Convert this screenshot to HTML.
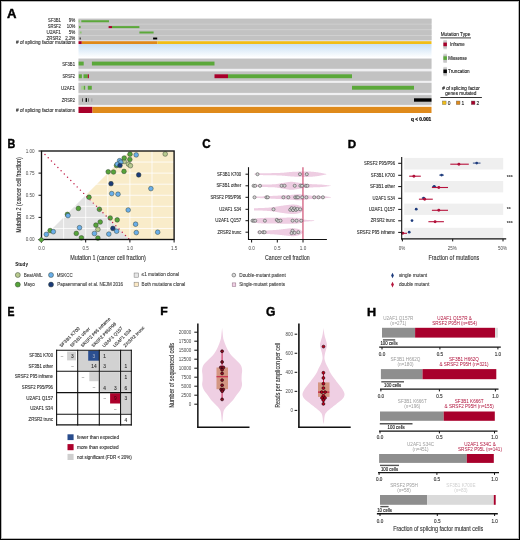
<!DOCTYPE html>
<html><head><meta charset="utf-8"><style>
html,body{margin:0;padding:0;background:#fff;}
#wrap{position:relative;width:520px;height:540px;overflow:hidden;background:#fff;}
#frame{position:absolute;left:0;top:0;width:518px;height:538px;border:1px solid #000;box-shadow:inset 0 0 0 1px rgba(0,0,0,0.28);}
svg{position:absolute;left:0;top:0;will-change:transform;}
text{font-family:"Liberation Sans", sans-serif;}
</style></head><body><div id="wrap">
<svg width="520" height="540" viewBox="0 0 520 540" font-family="Liberation Sans, sans-serif">
<defs><linearGradient id="bluegrad" x1="0" y1="0" x2="0" y2="1"><stop offset="0" stop-color="#c8e0f5"/><stop offset="1" stop-color="#ffffff"/></linearGradient></defs>
<text x="7.1" y="17.9" font-size="12.21" text-anchor="start" fill="#000" font-weight="bold" textLength="9.5" lengthAdjust="spacingAndGlyphs" stroke="#000" stroke-width="0.4">A</text>
<rect x="78.5" y="18.7" width="353" height="21.4" fill="#d6d6d6"/>
<rect x="78.5" y="40.1" width="353" height="1.1" fill="#dcdce6"/>
<rect x="78.5" y="18.7" width="353" height="5.1" fill="#c2c2c2"/>
<rect x="78.5" y="24.4" width="353" height="5" fill="#c2c2c2"/>
<rect x="78.5" y="30.1" width="353" height="5.1" fill="#c2c2c2"/>
<rect x="78.5" y="35.9" width="353" height="4.2" fill="#c2c2c2"/>
<rect x="78.6" y="20.25" width="1.4" height="2" fill="#9ccc86"/>
<rect x="81.3" y="20.25" width="27.7" height="2" fill="#5ba83a"/>
<rect x="79" y="26.1" width="1.6" height="2" fill="#5ba83a"/>
<rect x="108.6" y="26.1" width="3.4" height="2" fill="#a8002a"/>
<rect x="112" y="26.1" width="27.4" height="2" fill="#5ba83a"/>
<rect x="79.8" y="31.5" width="1.8" height="2" fill="#8fc478"/>
<rect x="139.4" y="31.5" width="14.2" height="2" fill="#5ba83a"/>
<rect x="79.6" y="37.5" width="1.2" height="2" fill="#333"/>
<rect x="153.1" y="37.55" width="4.1" height="1.9" fill="#000"/>
<rect x="78.5" y="41.2" width="3.3" height="2.8" fill="#a8002a"/>
<rect x="81.8" y="41.2" width="75.7" height="2.8" fill="#df8a1b"/>
<rect x="157.5" y="41.2" width="274" height="2.8" fill="#f1bd17"/>
<rect x="78.5" y="44" width="353" height="13.5" fill="url(#bluegrad)"/>
<text x="48.1" y="22.46" font-size="4.6" text-anchor="start" fill="#333" stroke="#333" stroke-width="0.12" textLength="12.8" lengthAdjust="spacingAndGlyphs">SF3B1</text>
<text x="68.8" y="22.46" font-size="4.6" text-anchor="start" fill="#333" stroke="#333" stroke-width="0.12" textLength="6.5" lengthAdjust="spacingAndGlyphs">9%</text>
<text x="47.7" y="28.06" font-size="4.6" text-anchor="start" fill="#333" stroke="#333" stroke-width="0.12" textLength="13.2" lengthAdjust="spacingAndGlyphs">SRSF2</text>
<text x="66.8" y="28.06" font-size="4.6" text-anchor="start" fill="#333" stroke="#333" stroke-width="0.12" textLength="8.5" lengthAdjust="spacingAndGlyphs">10%</text>
<text x="46.6" y="33.76" font-size="4.6" text-anchor="start" fill="#333" stroke="#333" stroke-width="0.12" textLength="14.3" lengthAdjust="spacingAndGlyphs">U2AF1</text>
<text x="68.8" y="33.76" font-size="4.6" text-anchor="start" fill="#333" stroke="#333" stroke-width="0.12" textLength="6.5" lengthAdjust="spacingAndGlyphs">5%</text>
<text x="46.6" y="39.56" font-size="4.6" text-anchor="start" fill="#333" stroke="#333" stroke-width="0.12" textLength="14.3" lengthAdjust="spacingAndGlyphs">ZRSR2</text>
<text x="65.2" y="39.56" font-size="4.6" text-anchor="start" fill="#333" stroke="#333" stroke-width="0.12" textLength="10.1" lengthAdjust="spacingAndGlyphs">2.2%</text>
<text x="16" y="44.26" font-size="4.6" text-anchor="start" fill="#333" stroke="#333" stroke-width="0.12" textLength="59.3" lengthAdjust="spacingAndGlyphs"># of splicing factor mutations</text>
<rect x="78.5" y="58" width="353" height="48" fill="#f0f0f2"/>
<rect x="78.5" y="58.7" width="353" height="10.1" fill="#c2c2c2"/>
<rect x="78.5" y="71.4" width="353" height="9.4" fill="#c2c2c2"/>
<rect x="78.5" y="82.9" width="353" height="10" fill="#c2c2c2"/>
<rect x="78.5" y="95.1" width="353" height="9.8" fill="#c2c2c2"/>
<rect x="78.6" y="61.6" width="5.1" height="3.9" fill="#5ba83a"/>
<rect x="91.9" y="61.6" width="122.6" height="3.9" fill="#5ba83a"/>
<rect x="78.8" y="74.3" width="3.1" height="3.9" fill="#5ba83a"/>
<rect x="83.5" y="74.3" width="4.3" height="3.9" fill="#5ba83a"/>
<rect x="87.8" y="74.3" width="1.1" height="3.9" fill="#a8002a"/>
<rect x="214.5" y="74.3" width="13.5" height="3.9" fill="#a8002a"/>
<rect x="228" y="74.3" width="124" height="3.9" fill="#5ba83a"/>
<rect x="81.2" y="85.8" width="2.6" height="3.9" fill="#a7cf93"/>
<rect x="83.8" y="85.8" width="1.4" height="3.9" fill="#5ba83a"/>
<rect x="87.8" y="85.8" width="4" height="3.9" fill="#5ba83a"/>
<rect x="352" y="85.8" width="62" height="3.9" fill="#5ba83a"/>
<rect x="82" y="98.3" width="0.7" height="3.4" fill="#222"/>
<rect x="85.6" y="98.1" width="1.4" height="3.8" fill="#000"/>
<rect x="88.3" y="98.3" width="0.7" height="3.4" fill="#444"/>
<rect x="91.6" y="98.3" width="0.6" height="3.4" fill="#888"/>
<rect x="414" y="98.3" width="17.5" height="3.4" fill="#000"/>
<rect x="78.5" y="106.8" width="14" height="6.2" fill="#a8002a"/>
<rect x="92.5" y="106.8" width="339" height="6.2" fill="#df8a1b"/>
<text x="62.2" y="65.56" font-size="4.6" text-anchor="start" fill="#333" stroke="#333" stroke-width="0.12" textLength="12.8" lengthAdjust="spacingAndGlyphs">SF3B1</text>
<text x="62.5" y="77.76" font-size="4.6" text-anchor="start" fill="#333" stroke="#333" stroke-width="0.12" textLength="12.5" lengthAdjust="spacingAndGlyphs">SRSF2</text>
<text x="61.1" y="89.76" font-size="4.6" text-anchor="start" fill="#333" stroke="#333" stroke-width="0.12" textLength="13.9" lengthAdjust="spacingAndGlyphs">U2AF1</text>
<text x="61.8" y="101.86" font-size="4.6" text-anchor="start" fill="#333" stroke="#333" stroke-width="0.12" textLength="13.2" lengthAdjust="spacingAndGlyphs">ZRSR2</text>
<text x="16" y="111.86" font-size="4.6" text-anchor="start" fill="#333" stroke="#333" stroke-width="0.12" textLength="59" lengthAdjust="spacingAndGlyphs"># of splicing factor mutations</text>
<text x="431.2" y="121.4" font-size="4.8" text-anchor="end" fill="#000" font-weight="bold" textLength="20.3" lengthAdjust="spacingAndGlyphs" stroke="#000" stroke-width="0.18">q &lt; 0.001</text>
<text x="440.7" y="36.36" font-size="4.9" text-anchor="start" fill="#222" stroke="#222" stroke-width="0.12" textLength="29.6" lengthAdjust="spacingAndGlyphs">Mutation Type</text>
<rect x="440.3" y="37.4" width="30.7" height="1" fill="#444"/>
<rect x="443.4" y="40" width="3.5" height="9.3" fill="#d4d4d4"/>
<rect x="443.4" y="41.2" width="3.5" height="6.9" fill="#c4c4c4"/>
<rect x="443.4" y="42.6" width="3.5" height="3.6" fill="#a8002a"/>
<text x="450" y="46.16" font-size="4.9" text-anchor="start" fill="#222" stroke="#222" stroke-width="0.12" textLength="14.6" lengthAdjust="spacingAndGlyphs">Inframe</text>
<rect x="443.4" y="53.7" width="3.5" height="9.3" fill="#d4d4d4"/>
<rect x="443.4" y="54.9" width="3.5" height="6.9" fill="#c4c4c4"/>
<rect x="443.4" y="56.3" width="3.5" height="3.6" fill="#5ba83a"/>
<text x="448.3" y="60.16" font-size="4.9" text-anchor="start" fill="#222" stroke="#222" stroke-width="0.12" textLength="18.7" lengthAdjust="spacingAndGlyphs">Missense</text>
<rect x="443.4" y="66.9" width="3.5" height="9.3" fill="#d4d4d4"/>
<rect x="443.4" y="68.1" width="3.5" height="6.9" fill="#c4c4c4"/>
<rect x="443.4" y="69.5" width="3.5" height="3.6" fill="#000"/>
<text x="448.1" y="72.96" font-size="4.9" text-anchor="start" fill="#222" stroke="#222" stroke-width="0.12" textLength="21.6" lengthAdjust="spacingAndGlyphs">Truncation</text>
<text x="442.3" y="90.06" font-size="4.9" text-anchor="start" fill="#222" stroke="#222" stroke-width="0.12" textLength="37.5" lengthAdjust="spacingAndGlyphs"># of splicing factor</text>
<text x="445.2" y="94.86" font-size="4.9" text-anchor="start" fill="#222" stroke="#222" stroke-width="0.12" textLength="31.2" lengthAdjust="spacingAndGlyphs">genes mutated</text>
<rect x="440.4" y="97" width="41.5" height="1" fill="#333"/>
<rect x="442.3" y="101" width="3.8" height="3.6" fill="#f1bd17" stroke="#666" stroke-width="0.4"/>
<text x="447.7" y="104.6" font-size="4.9" text-anchor="start" fill="#222" stroke="#222" stroke-width="0.12">0</text>
<rect x="456.2" y="101" width="3.8" height="3.6" fill="#df8a1b" stroke="#666" stroke-width="0.4"/>
<text x="461.6" y="104.6" font-size="4.9" text-anchor="start" fill="#222" stroke="#222" stroke-width="0.12">1</text>
<rect x="471.2" y="101" width="3.8" height="3.6" fill="#a8002a" stroke="#666" stroke-width="0.4"/>
<text x="476.6" y="104.6" font-size="4.9" text-anchor="start" fill="#222" stroke="#222" stroke-width="0.12">2</text>
<text x="7.5" y="147.75" font-size="11.85" text-anchor="start" fill="#000" font-weight="bold" textLength="7.8" lengthAdjust="spacingAndGlyphs" stroke="#000" stroke-width="0.4">B</text>
<path d="M41.5 239.5 L85.7 195.25 L129.9 239.5 Z" fill="#e3e3e3" stroke="none" stroke-width="1"/>
<path d="M85.7 195.25 L129.9 151 L174.1 151 L174.1 239.5 L129.9 239.5 Z" fill="#f9ecca" stroke="none" stroke-width="1"/>
<line x1="63.6" y1="151" x2="63.6" y2="239.5" stroke="#fff" stroke-width="0.8"/>
<line x1="85.7" y1="151" x2="85.7" y2="239.5" stroke="#fff" stroke-width="0.8"/>
<line x1="107.8" y1="151" x2="107.8" y2="239.5" stroke="#fff" stroke-width="0.8"/>
<line x1="129.9" y1="151" x2="129.9" y2="239.5" stroke="#fff" stroke-width="0.8"/>
<line x1="152" y1="151" x2="152" y2="239.5" stroke="#fff" stroke-width="0.8"/>
<line x1="41.5" y1="228.44" x2="174.1" y2="228.44" stroke="#fff" stroke-width="0.8"/>
<line x1="41.5" y1="217.38" x2="174.1" y2="217.38" stroke="#fff" stroke-width="0.8"/>
<line x1="41.5" y1="206.31" x2="174.1" y2="206.31" stroke="#fff" stroke-width="0.8"/>
<line x1="41.5" y1="195.25" x2="174.1" y2="195.25" stroke="#fff" stroke-width="0.8"/>
<line x1="41.5" y1="184.19" x2="174.1" y2="184.19" stroke="#fff" stroke-width="0.8"/>
<line x1="41.5" y1="173.12" x2="174.1" y2="173.12" stroke="#fff" stroke-width="0.8"/>
<line x1="41.5" y1="162.06" x2="174.1" y2="162.06" stroke="#fff" stroke-width="0.8"/>
<circle cx="46.3" cy="234.4" r="2.35" fill="#6aaee9" stroke="#2a3a2a" stroke-width="0.45"/>
<circle cx="50.1" cy="230.6" r="2.35" fill="#56a33a" stroke="#2a3a2a" stroke-width="0.45"/>
<circle cx="53.3" cy="231.7" r="2.35" fill="#6aaee9" stroke="#2a3a2a" stroke-width="0.45"/>
<circle cx="67.4" cy="214.4" r="2.35" fill="#56a33a" stroke="#2a3a2a" stroke-width="0.45"/>
<circle cx="68" cy="215.6" r="2.35" fill="#6aaee9" stroke="#2a3a2a" stroke-width="0.45"/>
<circle cx="78.4" cy="208.4" r="2.35" fill="#56a33a" stroke="#2a3a2a" stroke-width="0.45"/>
<circle cx="79.5" cy="227.7" r="2.35" fill="#6aaee9" stroke="#2a3a2a" stroke-width="0.45"/>
<circle cx="76.3" cy="233.4" r="2.35" fill="#56a33a" stroke="#2a3a2a" stroke-width="0.45"/>
<circle cx="81.4" cy="237.8" r="2.35" fill="#56a33a" stroke="#2a3a2a" stroke-width="0.45"/>
<circle cx="89" cy="197.2" r="2.35" fill="#56a33a" stroke="#2a3a2a" stroke-width="0.45"/>
<circle cx="99.4" cy="209.3" r="2.35" fill="#56a33a" stroke="#2a3a2a" stroke-width="0.45"/>
<circle cx="95.9" cy="225.1" r="2.35" fill="#56a33a" stroke="#2a3a2a" stroke-width="0.45"/>
<circle cx="100.2" cy="222" r="2.35" fill="#56a33a" stroke="#2a3a2a" stroke-width="0.45"/>
<circle cx="97.9" cy="229.4" r="2.35" fill="#b8c98e" stroke="#2a3a2a" stroke-width="0.45"/>
<circle cx="94.4" cy="233.5" r="2.35" fill="#6aaee9" stroke="#2a3a2a" stroke-width="0.45"/>
<circle cx="97.9" cy="238.1" r="2.35" fill="#56a33a" stroke="#2a3a2a" stroke-width="0.45"/>
<circle cx="108.8" cy="234.1" r="2.35" fill="#6aaee9" stroke="#2a3a2a" stroke-width="0.45"/>
<circle cx="112.9" cy="228.4" r="2.35" fill="#1b3a78" stroke="#2a3a2a" stroke-width="0.45"/>
<circle cx="116.6" cy="231.2" r="2.35" fill="#6aaee9" stroke="#2a3a2a" stroke-width="0.45"/>
<circle cx="110.2" cy="218" r="2.35" fill="#56a33a" stroke="#2a3a2a" stroke-width="0.45"/>
<circle cx="117.2" cy="219.9" r="2.35" fill="#56a33a" stroke="#2a3a2a" stroke-width="0.45"/>
<circle cx="128.2" cy="210" r="2.35" fill="#6aaee9" stroke="#2a3a2a" stroke-width="0.45"/>
<circle cx="135.6" cy="224.2" r="2.35" fill="#6aaee9" stroke="#2a3a2a" stroke-width="0.45"/>
<circle cx="136.3" cy="232.6" r="2.35" fill="#6aaee9" stroke="#2a3a2a" stroke-width="0.45"/>
<circle cx="157.7" cy="232.2" r="2.35" fill="#6aaee9" stroke="#2a3a2a" stroke-width="0.45"/>
<circle cx="150.9" cy="188.6" r="2.35" fill="#6aaee9" stroke="#2a3a2a" stroke-width="0.45"/>
<circle cx="111.7" cy="193.6" r="2.35" fill="#6aaee9" stroke="#2a3a2a" stroke-width="0.45"/>
<circle cx="118" cy="194.2" r="2.35" fill="#6aaee9" stroke="#2a3a2a" stroke-width="0.45"/>
<circle cx="111" cy="183.7" r="2.35" fill="#1b3a78" stroke="#2a3a2a" stroke-width="0.45"/>
<circle cx="138.7" cy="174.9" r="2.35" fill="#1b3a78" stroke="#2a3a2a" stroke-width="0.45"/>
<circle cx="108.2" cy="171.8" r="2.35" fill="#56a33a" stroke="#2a3a2a" stroke-width="0.45"/>
<circle cx="113.5" cy="172" r="2.35" fill="#56a33a" stroke="#2a3a2a" stroke-width="0.45"/>
<circle cx="124" cy="171.4" r="2.35" fill="#56a33a" stroke="#2a3a2a" stroke-width="0.45"/>
<circle cx="124.2" cy="161.5" r="2.35" fill="#b8c98e" stroke="#2a3a2a" stroke-width="0.45"/>
<circle cx="124.2" cy="158" r="2.35" fill="#56a33a" stroke="#2a3a2a" stroke-width="0.45"/>
<circle cx="130" cy="154.2" r="2.35" fill="#56a33a" stroke="#2a3a2a" stroke-width="0.45"/>
<circle cx="136.2" cy="154.9" r="2.35" fill="#6aaee9" stroke="#2a3a2a" stroke-width="0.45"/>
<circle cx="129.8" cy="159.5" r="2.35" fill="#56a33a" stroke="#2a3a2a" stroke-width="0.45"/>
<circle cx="119.6" cy="160.7" r="2.35" fill="#6aaee9" stroke="#2a3a2a" stroke-width="0.45"/>
<circle cx="120.8" cy="162.2" r="2.35" fill="#6aaee9" stroke="#2a3a2a" stroke-width="0.45"/>
<circle cx="116.5" cy="165.5" r="2.35" fill="#56a33a" stroke="#2a3a2a" stroke-width="0.45"/>
<circle cx="117.3" cy="164.2" r="2.35" fill="#6aaee9" stroke="#2a3a2a" stroke-width="0.45"/>
<circle cx="120" cy="165.5" r="2.35" fill="#1b3a78" stroke="#2a3a2a" stroke-width="0.45"/>
<circle cx="128.5" cy="164.2" r="2.35" fill="#b8c98e" stroke="#2a3a2a" stroke-width="0.45"/>
<circle cx="130.4" cy="165.7" r="2.35" fill="#b8c98e" stroke="#2a3a2a" stroke-width="0.45"/>
<circle cx="165.2" cy="154" r="2.35" fill="#b8c98e" stroke="#2a3a2a" stroke-width="0.45"/>
<circle cx="45" cy="154.5" r="0.72" fill="#c21f4a" stroke="none" stroke-width="0.5"/>
<circle cx="48.22" cy="157.74" r="0.72" fill="#c21f4a" stroke="none" stroke-width="0.5"/>
<circle cx="51.44" cy="160.98" r="0.72" fill="#c21f4a" stroke="none" stroke-width="0.5"/>
<circle cx="54.66" cy="164.22" r="0.72" fill="#c21f4a" stroke="none" stroke-width="0.5"/>
<circle cx="57.88" cy="167.46" r="0.72" fill="#c21f4a" stroke="none" stroke-width="0.5"/>
<circle cx="61.1" cy="170.7" r="0.72" fill="#c21f4a" stroke="none" stroke-width="0.5"/>
<circle cx="64.32" cy="173.94" r="0.72" fill="#c21f4a" stroke="none" stroke-width="0.5"/>
<circle cx="67.54" cy="177.18" r="0.72" fill="#c21f4a" stroke="none" stroke-width="0.5"/>
<circle cx="70.76" cy="180.42" r="0.72" fill="#c21f4a" stroke="none" stroke-width="0.5"/>
<circle cx="73.98" cy="183.66" r="0.72" fill="#c21f4a" stroke="none" stroke-width="0.5"/>
<circle cx="77.2" cy="186.9" r="0.72" fill="#c21f4a" stroke="none" stroke-width="0.5"/>
<circle cx="80.42" cy="190.14" r="0.72" fill="#c21f4a" stroke="none" stroke-width="0.5"/>
<circle cx="83.64" cy="193.38" r="0.72" fill="#c21f4a" stroke="none" stroke-width="0.5"/>
<circle cx="86.86" cy="196.62" r="0.72" fill="#c21f4a" stroke="none" stroke-width="0.5"/>
<circle cx="90.08" cy="199.86" r="0.72" fill="#c21f4a" stroke="none" stroke-width="0.5"/>
<circle cx="93.3" cy="203.1" r="0.72" fill="#c21f4a" stroke="none" stroke-width="0.5"/>
<circle cx="96.52" cy="206.34" r="0.72" fill="#c21f4a" stroke="none" stroke-width="0.5"/>
<circle cx="99.74" cy="209.58" r="0.72" fill="#c21f4a" stroke="none" stroke-width="0.5"/>
<circle cx="102.96" cy="212.82" r="0.72" fill="#c21f4a" stroke="none" stroke-width="0.5"/>
<circle cx="106.18" cy="216.06" r="0.72" fill="#c21f4a" stroke="none" stroke-width="0.5"/>
<circle cx="109.4" cy="219.3" r="0.72" fill="#c21f4a" stroke="none" stroke-width="0.5"/>
<circle cx="112.62" cy="222.54" r="0.72" fill="#c21f4a" stroke="none" stroke-width="0.5"/>
<circle cx="115.84" cy="225.78" r="0.72" fill="#c21f4a" stroke="none" stroke-width="0.5"/>
<circle cx="119.06" cy="229.02" r="0.72" fill="#c21f4a" stroke="none" stroke-width="0.5"/>
<circle cx="122.28" cy="232.26" r="0.72" fill="#c21f4a" stroke="none" stroke-width="0.5"/>
<circle cx="125.5" cy="235.5" r="0.72" fill="#c21f4a" stroke="none" stroke-width="0.5"/>
<circle cx="128.72" cy="238.74" r="0.72" fill="#c21f4a" stroke="none" stroke-width="0.5"/>
<rect x="41.5" y="151" width="132.6" height="88.5" fill="none" stroke="#111" stroke-width="1.35"/>
<line x1="38.5" y1="239.5" x2="41.5" y2="239.5" stroke="#111" stroke-width="1"/>
<text x="34.6" y="241.1" font-size="4.6" text-anchor="end" fill="#4a4a4a">0.00</text>
<line x1="38.5" y1="217.38" x2="41.5" y2="217.38" stroke="#111" stroke-width="1"/>
<text x="34.6" y="218.97" font-size="4.6" text-anchor="end" fill="#4a4a4a">0.25</text>
<line x1="38.5" y1="195.25" x2="41.5" y2="195.25" stroke="#111" stroke-width="1"/>
<text x="34.6" y="196.85" font-size="4.6" text-anchor="end" fill="#4a4a4a">0.50</text>
<line x1="38.5" y1="173.12" x2="41.5" y2="173.12" stroke="#111" stroke-width="1"/>
<text x="34.6" y="174.72" font-size="4.6" text-anchor="end" fill="#4a4a4a">0.75</text>
<line x1="38.5" y1="151" x2="41.5" y2="151" stroke="#111" stroke-width="1"/>
<text x="34.6" y="152.6" font-size="4.6" text-anchor="end" fill="#4a4a4a">1.00</text>
<line x1="41.5" y1="239.5" x2="41.5" y2="242.5" stroke="#111" stroke-width="1"/>
<text x="41.5" y="249.6" font-size="4.6" text-anchor="middle" fill="#4a4a4a">0.0</text>
<line x1="85.7" y1="239.5" x2="85.7" y2="242.5" stroke="#111" stroke-width="1"/>
<text x="85.7" y="249.6" font-size="4.6" text-anchor="middle" fill="#4a4a4a">0.5</text>
<line x1="129.9" y1="239.5" x2="129.9" y2="242.5" stroke="#111" stroke-width="1"/>
<text x="129.9" y="249.6" font-size="4.6" text-anchor="middle" fill="#4a4a4a">1.0</text>
<line x1="174.1" y1="239.5" x2="174.1" y2="242.5" stroke="#111" stroke-width="1"/>
<text x="174.1" y="249.6" font-size="4.6" text-anchor="middle" fill="#4a4a4a">1.5</text>
<path d="M38.5 239.8 l2.8 -2.8 l2.8 2.8 l-2.8 2.8 Z" fill="#56a33a" stroke="#1f2a1f" stroke-width="0.5"/>
<text x="70.3" y="260.4" font-size="6.4" text-anchor="start" fill="#333" stroke="#333" stroke-width="0.12" textLength="75.6" lengthAdjust="spacingAndGlyphs">Mutation 1 (cancer cell fraction)</text>
<text transform="translate(21.4,195) rotate(-90)" font-size="6.4" text-anchor="middle" fill="#333" stroke="#333" stroke-width="0.12" textLength="75.6" lengthAdjust="spacingAndGlyphs">Mutation 2 (cancer cell fraction)</text>
<text x="15.2" y="266.33" font-size="4.8" text-anchor="start" fill="#111" font-weight="bold" textLength="12.8" lengthAdjust="spacingAndGlyphs">Study</text>
<circle cx="17.8" cy="275" r="2.5" fill="#b8c98e" stroke="#2a3a2a" stroke-width="0.45"/>
<text x="23.8" y="276.69" font-size="4.7" text-anchor="start" fill="#444" stroke="#444" stroke-width="0.12" textLength="18.7" lengthAdjust="spacingAndGlyphs">BeatAML</text>
<circle cx="51" cy="275" r="2.5" fill="#6aaee9" stroke="#2a3a2a" stroke-width="0.45"/>
<text x="56.7" y="276.69" font-size="4.7" text-anchor="start" fill="#444" stroke="#444" stroke-width="0.12" textLength="15.9" lengthAdjust="spacingAndGlyphs">MSKCC</text>
<circle cx="17.8" cy="284.6" r="2.5" fill="#56a33a" stroke="#2a3a2a" stroke-width="0.45"/>
<text x="23.8" y="286.29" font-size="4.7" text-anchor="start" fill="#444" stroke="#444" stroke-width="0.12" textLength="10.8" lengthAdjust="spacingAndGlyphs">Mayo</text>
<circle cx="51" cy="284.6" r="2.5" fill="#1b3a78" stroke="#2a3a2a" stroke-width="0.45"/>
<text x="57.3" y="286.29" font-size="4.7" text-anchor="start" fill="#444" stroke="#444" stroke-width="0.12" textLength="65.7" lengthAdjust="spacingAndGlyphs">Papaemmanuil et al. NEJM 2016</text>
<rect x="134.1" y="273" width="4.6" height="4.2" fill="#e6e6e6" stroke="#777" stroke-width="0.5"/>
<rect x="134.1" y="282.2" width="4.6" height="4.2" fill="#fbe8c4" stroke="#777" stroke-width="0.5"/>
<text x="141.6" y="276.49" font-size="4.7" text-anchor="start" fill="#444" stroke="#444" stroke-width="0.12" textLength="37.5" lengthAdjust="spacingAndGlyphs">≤1 mutation clonal</text>
<text x="141.6" y="285.99" font-size="4.7" text-anchor="start" fill="#444" stroke="#444" stroke-width="0.12" textLength="43.7" lengthAdjust="spacingAndGlyphs">Both mutations clonal</text>
<text x="202.2" y="147.7" font-size="12.21" text-anchor="start" fill="#000" font-weight="bold" textLength="8.4" lengthAdjust="spacingAndGlyphs" stroke="#000" stroke-width="0.4">C</text>
<polygon points="254.5,173.6 254.76,173.59 255.04,173.58 255.35,173.56 255.69,173.54 256.06,173.53 256.46,173.51 256.89,173.49 257.37,173.46 257.88,173.44 258.44,173.42 259.05,173.39 259.71,173.37 260.42,173.35 261.18,173.32 262,173.3 262.36,173.29 262.75,173.28 263.15,173.27 263.57,173.26 264.01,173.25 264.46,173.25 264.93,173.24 265.41,173.23 265.9,173.22 266.41,173.21 266.92,173.2 267.44,173.2 267.98,173.19 268.51,173.18 269.06,173.17 269.61,173.16 270.16,173.15 270.72,173.14 271.28,173.13 271.84,173.12 272.39,173.11 272.95,173.1 273.5,173.09 274.06,173.08 274.6,173.07 275.14,173.06 275.68,173.04 276.2,173.03 276.72,173.02 277.23,173 277.72,172.99 278.21,172.97 278.68,172.95 279.13,172.94 279.57,172.92 280,172.9 280.61,172.87 281.21,172.84 281.79,172.8 282.35,172.76 282.89,172.72 283.42,172.68 283.94,172.63 284.44,172.59 284.94,172.54 285.43,172.5 285.9,172.45 286.38,172.4 286.84,172.35 287.3,172.3 287.76,172.26 288.22,172.21 288.68,172.17 289.14,172.12 289.6,172.08 290.07,172.04 290.54,172 291.02,171.96 291.5,171.93 292,171.9 292.5,171.87 293.01,171.84 293.53,171.82 294.05,171.79 294.57,171.77 295.09,171.74 295.62,171.72 296.15,171.7 296.68,171.68 297.2,171.66 297.73,171.64 298.25,171.62 298.77,171.61 299.28,171.59 299.79,171.58 300.3,171.57 300.79,171.55 301.28,171.54 301.76,171.53 302.23,171.52 302.69,171.52 303.14,171.51 303.58,171.5 304,171.5 304.61,171.49 305.19,171.49 305.75,171.49 306.28,171.49 306.8,171.49 307.29,171.5 307.78,171.5 308.25,171.51 308.72,171.52 309.18,171.54 309.63,171.56 310.09,171.58 310.56,171.6 311.03,171.63 311.51,171.66 312,171.7 312.5,171.74 313.01,171.78 313.52,171.83 314.04,171.89 314.56,171.94 315.07,172 315.59,172.07 316.11,172.13 316.62,172.2 317.12,172.27 317.63,172.34 318.12,172.41 318.61,172.48 319.08,172.56 319.55,172.63 320,172.7 320.6,172.8 321.22,172.91 321.84,173.03 322.46,173.16 323.06,173.29 323.65,173.41 324.21,173.54 324.73,173.65 325.21,173.76 325.63,173.86 326,173.94 326.3,174 326.3,174.4 326,174.46 325.63,174.54 325.21,174.64 324.73,174.75 324.21,174.86 323.65,174.99 323.06,175.11 322.46,175.24 321.84,175.37 321.22,175.49 320.6,175.6 320,175.7 319.55,175.77 319.08,175.84 318.61,175.92 318.12,175.99 317.63,176.06 317.12,176.13 316.62,176.2 316.11,176.27 315.59,176.33 315.07,176.4 314.56,176.46 314.04,176.51 313.52,176.57 313.01,176.62 312.5,176.66 312,176.7 311.51,176.74 311.03,176.77 310.56,176.8 310.09,176.82 309.63,176.84 309.18,176.86 308.72,176.88 308.25,176.89 307.78,176.9 307.29,176.9 306.8,176.91 306.28,176.91 305.75,176.91 305.19,176.91 304.61,176.91 304,176.9 303.58,176.9 303.14,176.89 302.69,176.88 302.23,176.88 301.76,176.87 301.28,176.86 300.79,176.85 300.3,176.83 299.79,176.82 299.28,176.81 298.77,176.79 298.25,176.77 297.73,176.76 297.2,176.74 296.68,176.72 296.15,176.7 295.62,176.68 295.09,176.66 294.57,176.63 294.05,176.61 293.53,176.58 293.01,176.56 292.5,176.53 292,176.5 291.5,176.47 291.02,176.44 290.54,176.4 290.07,176.36 289.6,176.32 289.14,176.28 288.68,176.23 288.22,176.19 287.76,176.14 287.3,176.1 286.84,176.05 286.38,176 285.9,175.95 285.43,175.9 284.94,175.86 284.44,175.81 283.94,175.77 283.42,175.72 282.89,175.68 282.35,175.64 281.79,175.6 281.21,175.56 280.61,175.53 280,175.5 279.57,175.48 279.13,175.46 278.68,175.45 278.21,175.43 277.72,175.41 277.23,175.4 276.72,175.38 276.2,175.37 275.68,175.36 275.14,175.34 274.6,175.33 274.06,175.32 273.5,175.31 272.95,175.3 272.39,175.29 271.84,175.28 271.28,175.27 270.72,175.26 270.16,175.25 269.61,175.24 269.06,175.23 268.51,175.22 267.98,175.21 267.44,175.2 266.92,175.2 266.41,175.19 265.9,175.18 265.41,175.17 264.93,175.16 264.46,175.15 264.01,175.15 263.57,175.14 263.15,175.13 262.75,175.12 262.36,175.11 262,175.1 261.18,175.08 260.42,175.05 259.71,175.03 259.05,175.01 258.44,174.98 257.88,174.96 257.37,174.94 256.89,174.91 256.46,174.89 256.06,174.87 255.69,174.86 255.35,174.84 255.04,174.82 254.76,174.81 254.5,174.8" fill="#eecde2"/>
<polygon points="252.5,185 252.77,184.99 253.08,184.97 253.43,184.96 253.82,184.94 254.23,184.92 254.68,184.9 255.15,184.88 255.65,184.86 256.17,184.84 256.71,184.81 257.27,184.79 257.84,184.76 258.42,184.74 259.01,184.72 259.6,184.69 260.2,184.67 260.81,184.64 261.4,184.62 262,184.6 262.44,184.59 262.9,184.57 263.37,184.56 263.85,184.55 264.34,184.54 264.84,184.53 265.35,184.52 265.87,184.51 266.4,184.5 266.93,184.49 267.46,184.48 268,184.47 268.53,184.46 269.07,184.45 269.6,184.44 270.13,184.43 270.66,184.41 271.18,184.4 271.69,184.38 272.2,184.36 272.7,184.34 273.19,184.32 273.66,184.29 274.12,184.26 274.57,184.23 275,184.2 275.6,184.15 276.19,184.09 276.75,184.02 277.31,183.95 277.85,183.87 278.37,183.79 278.88,183.71 279.38,183.62 279.88,183.54 280.36,183.45 280.83,183.36 281.3,183.27 281.76,183.19 282.21,183.1 282.66,183.02 283.11,182.94 283.56,182.87 284,182.8 284.56,182.71 285.1,182.62 285.63,182.53 286.15,182.43 286.65,182.34 287.14,182.25 287.62,182.16 288.1,182.08 288.58,182.01 289.06,181.94 289.54,181.89 290.02,181.84 290.5,181.82 291,181.8 291.5,181.8 292,181.82 292.5,181.85 293,181.89 293.5,181.94 294,182.01 294.5,182.08 295,182.15 295.5,182.23 296,182.3 296.5,182.38 297,182.46 297.5,182.53 298,182.6 298.5,182.67 298.99,182.74 299.48,182.81 299.97,182.88 300.46,182.96 300.95,183.04 301.44,183.11 301.93,183.19 302.43,183.26 302.93,183.34 303.43,183.41 303.95,183.48 304.47,183.54 305,183.6 305.47,183.65 305.95,183.7 306.42,183.74 306.91,183.78 307.39,183.82 307.88,183.86 308.38,183.9 308.88,183.94 309.38,183.97 309.88,184.01 310.39,184.04 310.91,184.07 311.42,184.11 311.95,184.14 312.47,184.17 313,184.2 313.48,184.23 313.96,184.25 314.45,184.27 314.94,184.29 315.44,184.31 315.94,184.33 316.45,184.34 316.95,184.36 317.46,184.38 317.97,184.39 318.48,184.41 318.99,184.43 319.5,184.45 320.01,184.47 320.51,184.5 321.01,184.53 321.51,184.56 322,184.6 322.53,184.64 323.08,184.7 323.65,184.75 324.23,184.82 324.82,184.88 325.41,184.95 326,185.02 326.58,185.09 327.14,185.16 327.69,185.23 328.22,185.3 328.71,185.36 329.18,185.42 329.6,185.48 329.98,185.52 330.32,185.57 330.6,185.6 330.6,186 330.32,186.03 329.98,186.08 329.6,186.12 329.18,186.18 328.71,186.24 328.22,186.3 327.69,186.37 327.14,186.44 326.58,186.51 326,186.58 325.41,186.65 324.82,186.72 324.23,186.78 323.65,186.85 323.08,186.9 322.53,186.96 322,187 321.51,187.04 321.01,187.07 320.51,187.1 320.01,187.13 319.5,187.15 318.99,187.17 318.48,187.19 317.97,187.21 317.46,187.23 316.95,187.24 316.45,187.26 315.94,187.27 315.44,187.29 314.94,187.31 314.45,187.33 313.96,187.35 313.48,187.37 313,187.4 312.47,187.43 311.95,187.46 311.42,187.49 310.91,187.53 310.39,187.56 309.88,187.59 309.38,187.63 308.88,187.66 308.38,187.7 307.88,187.74 307.39,187.78 306.91,187.82 306.42,187.86 305.95,187.9 305.47,187.95 305,188 304.47,188.06 303.95,188.12 303.43,188.19 302.93,188.26 302.43,188.34 301.93,188.41 301.44,188.49 300.95,188.56 300.46,188.64 299.97,188.72 299.48,188.79 298.99,188.86 298.5,188.93 298,189 297.5,189.07 297,189.14 296.5,189.22 296,189.3 295.5,189.37 295,189.45 294.5,189.53 294,189.59 293.5,189.66 293,189.71 292.5,189.75 292,189.78 291.5,189.8 291,189.8 290.5,189.78 290.02,189.76 289.54,189.71 289.06,189.66 288.58,189.59 288.1,189.52 287.62,189.44 287.14,189.35 286.65,189.26 286.15,189.17 285.63,189.07 285.1,188.98 284.56,188.89 284,188.8 283.56,188.73 283.11,188.66 282.66,188.58 282.21,188.5 281.76,188.41 281.3,188.33 280.83,188.24 280.36,188.15 279.88,188.06 279.38,187.98 278.88,187.89 278.37,187.81 277.85,187.73 277.31,187.65 276.75,187.58 276.19,187.51 275.6,187.45 275,187.4 274.57,187.37 274.12,187.34 273.66,187.31 273.19,187.28 272.7,187.26 272.2,187.24 271.69,187.22 271.18,187.2 270.66,187.19 270.13,187.17 269.6,187.16 269.07,187.15 268.53,187.14 268,187.13 267.46,187.12 266.93,187.11 266.4,187.1 265.87,187.09 265.35,187.08 264.84,187.07 264.34,187.06 263.85,187.05 263.37,187.04 262.9,187.03 262.44,187.01 262,187 261.4,186.98 260.81,186.96 260.2,186.93 259.6,186.91 259.01,186.88 258.42,186.86 257.84,186.84 257.27,186.81 256.71,186.79 256.17,186.76 255.65,186.74 255.15,186.72 254.68,186.7 254.23,186.68 253.82,186.66 253.43,186.64 253.08,186.63 252.77,186.61 252.5,186.6" fill="#eecde2"/>
<polygon points="254,196.7 254.28,196.69 254.62,196.68 255,196.66 255.44,196.65 255.91,196.63 256.41,196.61 256.95,196.59 257.5,196.58 258.07,196.55 258.65,196.53 259.23,196.51 259.81,196.49 260.39,196.47 260.95,196.44 261.49,196.42 262,196.4 262.5,196.38 262.99,196.36 263.47,196.33 263.95,196.31 264.43,196.29 264.91,196.26 265.39,196.24 265.88,196.21 266.36,196.19 266.85,196.16 267.35,196.14 267.86,196.11 268.38,196.08 268.9,196.06 269.45,196.03 270,196 270.45,195.98 270.92,195.95 271.39,195.93 271.87,195.91 272.36,195.88 272.85,195.86 273.35,195.83 273.86,195.81 274.36,195.78 274.88,195.76 275.39,195.73 275.9,195.7 276.42,195.68 276.94,195.65 277.45,195.63 277.97,195.6 278.48,195.58 278.99,195.55 279.5,195.53 280,195.5 280.5,195.48 281.01,195.45 281.52,195.43 282.03,195.4 282.55,195.38 283.06,195.36 283.58,195.33 284.1,195.31 284.61,195.29 285.12,195.26 285.64,195.24 286.14,195.21 286.65,195.19 287.15,195.16 287.64,195.14 288.13,195.11 288.61,195.09 289.08,195.06 289.55,195.03 290,195 290.56,194.96 291.11,194.91 291.65,194.87 292.19,194.81 292.71,194.76 293.23,194.7 293.75,194.65 294.25,194.59 294.75,194.54 295.23,194.49 295.71,194.44 296.19,194.4 296.65,194.37 297.11,194.34 297.56,194.31 298,194.3 298.56,194.29 299.09,194.3 299.59,194.31 300.07,194.33 300.54,194.36 301,194.39 301.46,194.44 301.93,194.48 302.41,194.53 302.91,194.59 303.44,194.64 304,194.7 304.44,194.75 304.89,194.8 305.35,194.86 305.81,194.92 306.29,194.99 306.77,195.06 307.25,195.13 307.75,195.21 308.25,195.28 308.77,195.35 309.29,195.42 309.81,195.49 310.35,195.55 310.89,195.6 311.44,195.66 312,195.7 312.46,195.73 312.92,195.75 313.4,195.78 313.89,195.79 314.38,195.81 314.88,195.82 315.39,195.82 315.9,195.83 316.42,195.84 316.94,195.84 317.46,195.85 317.98,195.86 318.49,195.86 319.01,195.87 319.52,195.89 320.03,195.9 320.54,195.92 321.03,195.94 321.52,195.97 322,196 322.54,196.04 323.09,196.09 323.66,196.15 324.24,196.21 324.82,196.28 325.41,196.35 325.99,196.42 326.56,196.49 327.12,196.57 327.67,196.64 328.2,196.72 328.7,196.79 329.18,196.85 329.62,196.91 330.03,196.97 330.4,197.02 330.72,197.06 331,197.1 331,197.5 330.72,197.54 330.4,197.58 330.03,197.63 329.62,197.69 329.18,197.75 328.7,197.81 328.2,197.88 327.67,197.96 327.12,198.03 326.56,198.11 325.99,198.18 325.41,198.25 324.82,198.32 324.24,198.39 323.66,198.45 323.09,198.51 322.54,198.56 322,198.6 321.52,198.63 321.03,198.66 320.54,198.68 320.03,198.7 319.52,198.71 319.01,198.73 318.49,198.74 317.98,198.74 317.46,198.75 316.94,198.76 316.42,198.76 315.9,198.77 315.39,198.78 314.88,198.78 314.38,198.79 313.89,198.81 313.4,198.82 312.92,198.85 312.46,198.87 312,198.9 311.44,198.94 310.89,199 310.35,199.05 309.81,199.11 309.29,199.18 308.77,199.25 308.25,199.32 307.75,199.39 307.25,199.47 306.77,199.54 306.29,199.61 305.81,199.68 305.35,199.74 304.89,199.8 304.44,199.85 304,199.9 303.44,199.96 302.91,200.01 302.41,200.07 301.93,200.12 301.46,200.16 301,200.21 300.54,200.24 300.07,200.27 299.59,200.29 299.09,200.3 298.56,200.31 298,200.3 297.56,200.29 297.11,200.26 296.65,200.23 296.19,200.2 295.71,200.16 295.23,200.11 294.75,200.06 294.25,200.01 293.75,199.95 293.23,199.9 292.71,199.84 292.19,199.79 291.65,199.73 291.11,199.69 290.56,199.64 290,199.6 289.55,199.57 289.08,199.54 288.61,199.51 288.13,199.49 287.64,199.46 287.15,199.44 286.65,199.41 286.14,199.39 285.64,199.36 285.12,199.34 284.61,199.31 284.1,199.29 283.58,199.27 283.06,199.24 282.55,199.22 282.03,199.2 281.52,199.17 281.01,199.15 280.5,199.12 280,199.1 279.5,199.07 278.99,199.05 278.48,199.02 277.97,199 277.45,198.97 276.94,198.95 276.42,198.92 275.9,198.9 275.39,198.87 274.88,198.84 274.36,198.82 273.86,198.79 273.35,198.77 272.85,198.74 272.36,198.72 271.87,198.69 271.39,198.67 270.92,198.65 270.45,198.62 270,198.6 269.45,198.57 268.9,198.54 268.38,198.52 267.86,198.49 267.35,198.46 266.85,198.44 266.36,198.41 265.88,198.39 265.39,198.36 264.91,198.34 264.43,198.31 263.95,198.29 263.47,198.27 262.99,198.24 262.5,198.22 262,198.2 261.49,198.18 260.95,198.16 260.39,198.13 259.81,198.11 259.23,198.09 258.65,198.07 258.07,198.05 257.5,198.03 256.95,198.01 256.41,197.99 255.91,197.97 255.44,197.95 255,197.94 254.62,197.92 254.28,197.91 254,197.9" fill="#eecde2"/>
<polygon points="254,208.2 254.28,208.19 254.6,208.19 254.98,208.18 255.39,208.18 255.84,208.17 256.33,208.16 256.84,208.15 257.38,208.14 257.93,208.13 258.5,208.12 259.08,208.11 259.67,208.09 260.26,208.07 260.85,208.05 261.43,208.03 262,208 262.45,207.98 262.92,207.95 263.39,207.93 263.87,207.91 264.36,207.88 264.85,207.86 265.35,207.83 265.86,207.8 266.36,207.77 266.88,207.74 267.39,207.7 267.9,207.67 268.42,207.63 268.94,207.59 269.45,207.55 269.97,207.51 270.48,207.46 270.99,207.41 271.5,207.36 272,207.3 272.5,207.24 273,207.17 273.5,207.1 274,207.03 274.5,206.95 275,206.87 275.5,206.79 276,206.7 276.5,206.61 277,206.53 277.5,206.44 278,206.35 278.5,206.26 279,206.17 279.5,206.09 280,206 280.5,205.92 281,205.84 281.5,205.77 282,205.7 282.5,205.63 283.02,205.56 283.54,205.49 284.06,205.42 284.59,205.35 285.13,205.28 285.66,205.21 286.19,205.15 286.72,205.08 287.25,205.02 287.77,204.96 288.29,204.9 288.8,204.85 289.29,204.8 289.78,204.75 290.26,204.71 290.72,204.67 291.16,204.64 291.59,204.62 292,204.6 292.65,204.58 293.25,204.58 293.83,204.58 294.37,204.6 294.88,204.63 295.38,204.68 295.84,204.73 296.3,204.79 296.73,204.85 297.16,204.93 297.58,205.01 298,205.1 298.62,205.25 299.21,205.43 299.78,205.64 300.31,205.86 300.81,206.09 301.26,206.33 301.66,206.56 302,206.8 302.75,207.91 303,208.8 303,209.8 302.75,210.69 302,211.8 301.66,212.04 301.26,212.27 300.81,212.51 300.31,212.74 299.78,212.96 299.21,213.17 298.62,213.35 298,213.5 297.58,213.59 297.16,213.67 296.73,213.75 296.3,213.81 295.84,213.87 295.38,213.93 294.88,213.97 294.37,214 293.83,214.02 293.25,214.02 292.65,214.02 292,214 291.59,213.98 291.16,213.96 290.72,213.93 290.26,213.89 289.78,213.85 289.29,213.8 288.8,213.75 288.29,213.7 287.77,213.64 287.25,213.58 286.72,213.52 286.19,213.45 285.66,213.39 285.13,213.32 284.59,213.25 284.06,213.18 283.54,213.11 283.02,213.04 282.5,212.97 282,212.9 281.5,212.83 281,212.76 280.5,212.68 280,212.6 279.5,212.51 279,212.43 278.5,212.34 278,212.25 277.5,212.16 277,212.08 276.5,211.99 276,211.9 275.5,211.81 275,211.73 274.5,211.65 274,211.57 273.5,211.5 273,211.43 272.5,211.36 272,211.3 271.5,211.24 270.99,211.19 270.48,211.14 269.97,211.09 269.45,211.05 268.94,211.01 268.42,210.97 267.9,210.93 267.39,210.9 266.88,210.86 266.36,210.83 265.86,210.8 265.35,210.77 264.85,210.74 264.36,210.72 263.87,210.69 263.39,210.67 262.92,210.65 262.45,210.62 262,210.6 261.43,210.57 260.85,210.55 260.26,210.53 259.67,210.51 259.08,210.49 258.5,210.48 257.93,210.47 257.38,210.46 256.84,210.45 256.33,210.44 255.84,210.43 255.39,210.42 254.98,210.42 254.6,210.41 254.28,210.41 254,210.4" fill="#eecde2"/>
<polygon points="252,219.7 252.28,219.6 252.62,219.47 253.03,219.31 253.5,219.14 254.03,218.96 254.62,218.79 255.28,218.63 256,218.5 256.38,218.45 256.77,218.39 257.17,218.34 257.58,218.3 258,218.25 258.44,218.21 258.9,218.17 259.38,218.13 259.87,218.1 260.38,218.06 260.92,218.03 261.48,218 262.07,217.97 262.69,217.95 263.33,217.92 264,217.9 264.4,217.89 264.82,217.88 265.25,217.87 265.7,217.86 266.16,217.85 266.64,217.85 267.12,217.84 267.62,217.84 268.13,217.83 268.64,217.83 269.16,217.83 269.69,217.83 270.22,217.83 270.75,217.82 271.29,217.82 271.83,217.82 272.36,217.82 272.9,217.82 273.44,217.82 273.97,217.82 274.5,217.82 275.02,217.82 275.54,217.82 276.05,217.82 276.55,217.81 277.05,217.81 277.53,217.8 278,217.8 278.54,217.79 279.08,217.79 279.62,217.78 280.16,217.77 280.7,217.76 281.23,217.75 281.77,217.73 282.3,217.72 282.82,217.71 283.34,217.7 283.86,217.69 284.38,217.67 284.88,217.66 285.38,217.65 285.88,217.64 286.37,217.63 286.85,217.62 287.33,217.62 287.8,217.61 288.25,217.61 288.71,217.6 289.15,217.6 289.58,217.6 290,217.6 290.62,217.6 291.21,217.61 291.79,217.61 292.35,217.62 292.9,217.62 293.42,217.63 293.94,217.64 294.44,217.66 294.92,217.67 295.4,217.69 295.86,217.72 296.3,217.74 296.74,217.77 297.17,217.81 297.59,217.85 298,217.9 298.63,217.99 299.22,218.11 299.78,218.24 300.31,218.38 300.81,218.53 301.29,218.68 301.74,218.83 302.18,218.97 302.59,219.09 303,219.2 303.56,219.34 303.96,219.45 304.3,219.54 304.69,219.63 305.22,219.71 306,219.8 306.38,219.84 306.83,219.88 307.33,219.92 307.88,219.96 308.45,220.01 309.05,220.05 309.67,220.09 310.29,220.14 310.9,220.18 311.5,220.22 312.07,220.26 312.6,220.29 313.1,220.32 313.53,220.35 313.9,220.38 314.2,220.4 314.2,221 313.9,221.02 313.53,221.05 313.1,221.08 312.6,221.11 312.07,221.14 311.5,221.18 310.9,221.22 310.29,221.26 309.67,221.31 309.05,221.35 308.45,221.39 307.88,221.44 307.33,221.48 306.83,221.52 306.38,221.56 306,221.6 305.22,221.69 304.69,221.77 304.3,221.86 303.96,221.95 303.56,222.06 303,222.2 302.59,222.31 302.18,222.43 301.74,222.57 301.29,222.72 300.81,222.87 300.31,223.02 299.78,223.16 299.22,223.29 298.63,223.41 298,223.5 297.59,223.55 297.17,223.59 296.74,223.63 296.3,223.66 295.86,223.68 295.4,223.71 294.92,223.73 294.44,223.74 293.94,223.76 293.42,223.77 292.9,223.78 292.35,223.78 291.79,223.79 291.21,223.79 290.62,223.8 290,223.8 289.58,223.8 289.15,223.8 288.71,223.8 288.25,223.79 287.8,223.79 287.33,223.78 286.85,223.78 286.37,223.77 285.88,223.76 285.38,223.75 284.88,223.74 284.38,223.72 283.86,223.71 283.34,223.7 282.82,223.69 282.3,223.68 281.77,223.67 281.23,223.65 280.7,223.64 280.16,223.63 279.62,223.62 279.08,223.61 278.54,223.61 278,223.6 277.53,223.6 277.05,223.59 276.55,223.59 276.05,223.58 275.54,223.58 275.02,223.58 274.5,223.58 273.97,223.58 273.44,223.58 272.9,223.58 272.36,223.58 271.83,223.58 271.29,223.58 270.75,223.57 270.22,223.57 269.69,223.57 269.16,223.57 268.64,223.57 268.13,223.57 267.62,223.56 267.12,223.56 266.64,223.55 266.16,223.55 265.7,223.54 265.25,223.53 264.82,223.52 264.4,223.51 264,223.5 263.33,223.48 262.69,223.45 262.07,223.43 261.48,223.4 260.92,223.37 260.38,223.34 259.87,223.3 259.38,223.27 258.9,223.23 258.44,223.19 258,223.15 257.58,223.1 257.17,223.06 256.77,223.01 256.38,222.95 256,222.9 255.28,222.77 254.62,222.61 254.03,222.44 253.5,222.26 253.03,222.09 252.62,221.93 252.28,221.8 252,221.7" fill="#eecde2"/>
<polygon points="257.5,230.9 257.77,230.89 258.09,230.87 258.44,230.86 258.84,230.84 259.28,230.82 259.75,230.8 260.26,230.78 260.8,230.76 261.38,230.73 261.99,230.7 262.63,230.67 263.3,230.64 264,230.6 264.4,230.58 264.81,230.56 265.25,230.53 265.7,230.51 266.18,230.49 266.66,230.46 267.16,230.44 267.67,230.41 268.19,230.38 268.71,230.36 269.24,230.33 269.78,230.3 270.32,230.27 270.86,230.24 271.4,230.21 271.94,230.18 272.48,230.15 273.01,230.11 273.54,230.08 274.05,230.04 274.56,230.01 275.05,229.97 275.53,229.94 276,229.9 276.55,229.85 277.09,229.8 277.64,229.75 278.18,229.7 278.71,229.64 279.24,229.58 279.77,229.52 280.29,229.46 280.8,229.4 281.31,229.34 281.82,229.28 282.31,229.22 282.8,229.16 283.28,229.11 283.76,229.05 284.22,228.99 284.68,228.94 285.13,228.89 285.57,228.84 286,228.8 286.59,228.74 287.17,228.67 287.72,228.61 288.25,228.55 288.76,228.48 289.26,228.42 289.75,228.37 290.23,228.32 290.7,228.28 291.16,228.24 291.62,228.21 292.08,228.2 292.54,228.19 293,228.2 293.54,228.22 294.09,228.26 294.64,228.32 295.19,228.39 295.72,228.46 296.25,228.55 296.76,228.65 297.26,228.75 297.73,228.86 298.19,228.97 298.61,229.08 299,229.2 299.7,229.46 300.3,229.77 300.81,230.11 301.26,230.44 301.65,230.74 302,231 302.69,231.56 303,231.9 303,232.5 302.69,232.84 302,233.4 301.65,233.66 301.26,233.96 300.81,234.29 300.3,234.63 299.7,234.94 299,235.2 298.61,235.32 298.19,235.43 297.73,235.54 297.26,235.65 296.76,235.75 296.25,235.85 295.72,235.94 295.19,236.01 294.64,236.08 294.09,236.14 293.54,236.18 293,236.2 292.54,236.21 292.08,236.2 291.62,236.19 291.16,236.16 290.7,236.12 290.23,236.08 289.75,236.03 289.26,235.98 288.76,235.92 288.25,235.85 287.72,235.79 287.17,235.73 286.59,235.66 286,235.6 285.57,235.56 285.13,235.51 284.68,235.46 284.22,235.41 283.76,235.35 283.28,235.29 282.8,235.24 282.31,235.18 281.82,235.12 281.31,235.06 280.8,235 280.29,234.94 279.77,234.88 279.24,234.82 278.71,234.76 278.18,234.7 277.64,234.65 277.09,234.6 276.55,234.55 276,234.5 275.53,234.46 275.05,234.43 274.56,234.39 274.05,234.36 273.54,234.32 273.01,234.29 272.48,234.25 271.94,234.22 271.4,234.19 270.86,234.16 270.32,234.13 269.78,234.1 269.24,234.07 268.71,234.04 268.19,234.02 267.67,233.99 267.16,233.96 266.66,233.94 266.18,233.91 265.7,233.89 265.25,233.87 264.81,233.84 264.4,233.82 264,233.8 263.3,233.76 262.63,233.73 261.99,233.7 261.38,233.67 260.8,233.64 260.26,233.62 259.75,233.6 259.28,233.58 258.84,233.56 258.44,233.54 258.09,233.53 257.77,233.51 257.5,233.5" fill="#eecde2"/>
<line x1="302.95" y1="167.2" x2="302.95" y2="239.5" stroke="#cf5174" stroke-width="1.2"/>
<circle cx="257.5" cy="174.2" r="1.55" fill="#d6d6d6" stroke="#505050" stroke-width="0.6"/>
<circle cx="300" cy="174.2" r="1.55" fill="#d6d6d6" stroke="#505050" stroke-width="0.6"/>
<circle cx="306.8" cy="174.2" r="1.55" fill="#d6d6d6" stroke="#505050" stroke-width="0.6"/>
<circle cx="253.6" cy="185.8" r="1.55" fill="#d6d6d6" stroke="#505050" stroke-width="0.6"/>
<circle cx="255.2" cy="185.8" r="1.55" fill="#d6d6d6" stroke="#505050" stroke-width="0.6"/>
<circle cx="260" cy="185.8" r="1.55" fill="#d6d6d6" stroke="#505050" stroke-width="0.6"/>
<circle cx="281.6" cy="185.8" r="1.55" fill="#d6d6d6" stroke="#505050" stroke-width="0.6"/>
<circle cx="284.6" cy="185.8" r="1.55" fill="#d6d6d6" stroke="#505050" stroke-width="0.6"/>
<circle cx="294.7" cy="185.8" r="1.55" fill="#d6d6d6" stroke="#505050" stroke-width="0.6"/>
<circle cx="300.4" cy="185.8" r="1.55" fill="#d6d6d6" stroke="#505050" stroke-width="0.6"/>
<circle cx="302" cy="185.8" r="1.55" fill="#d6d6d6" stroke="#505050" stroke-width="0.6"/>
<circle cx="305.9" cy="185.8" r="1.55" fill="#d6d6d6" stroke="#505050" stroke-width="0.6"/>
<circle cx="307.4" cy="185.8" r="1.55" fill="#d6d6d6" stroke="#505050" stroke-width="0.6"/>
<circle cx="254.5" cy="197.3" r="1.55" fill="#d6d6d6" stroke="#505050" stroke-width="0.6"/>
<circle cx="266.4" cy="197.3" r="1.55" fill="#d6d6d6" stroke="#505050" stroke-width="0.6"/>
<circle cx="267.8" cy="197.3" r="1.55" fill="#d6d6d6" stroke="#505050" stroke-width="0.6"/>
<circle cx="283.4" cy="197.3" r="1.55" fill="#d6d6d6" stroke="#505050" stroke-width="0.6"/>
<circle cx="288.3" cy="197.3" r="1.55" fill="#d6d6d6" stroke="#505050" stroke-width="0.6"/>
<circle cx="295.2" cy="197.3" r="1.55" fill="#d6d6d6" stroke="#505050" stroke-width="0.6"/>
<circle cx="296.8" cy="197.3" r="1.55" fill="#d6d6d6" stroke="#505050" stroke-width="0.6"/>
<circle cx="298" cy="197.3" r="1.55" fill="#d6d6d6" stroke="#505050" stroke-width="0.6"/>
<circle cx="302.1" cy="197.3" r="1.55" fill="#d6d6d6" stroke="#505050" stroke-width="0.6"/>
<circle cx="306.4" cy="197.3" r="1.55" fill="#d6d6d6" stroke="#505050" stroke-width="0.6"/>
<circle cx="314.2" cy="197.3" r="1.55" fill="#d6d6d6" stroke="#505050" stroke-width="0.6"/>
<circle cx="318.5" cy="197.3" r="1.55" fill="#d6d6d6" stroke="#505050" stroke-width="0.6"/>
<circle cx="322.9" cy="197.3" r="1.55" fill="#d6d6d6" stroke="#505050" stroke-width="0.6"/>
<circle cx="273.5" cy="209.3" r="1.55" fill="#d6d6d6" stroke="#505050" stroke-width="0.6"/>
<circle cx="290.2" cy="209.8" r="1.55" fill="#d6d6d6" stroke="#505050" stroke-width="0.6"/>
<circle cx="291.6" cy="208.2" r="1.55" fill="#d6d6d6" stroke="#505050" stroke-width="0.6"/>
<circle cx="293" cy="210.1" r="1.55" fill="#d6d6d6" stroke="#505050" stroke-width="0.6"/>
<circle cx="294.6" cy="208.4" r="1.55" fill="#d6d6d6" stroke="#505050" stroke-width="0.6"/>
<circle cx="296" cy="209.9" r="1.55" fill="#d6d6d6" stroke="#505050" stroke-width="0.6"/>
<circle cx="297.4" cy="208.9" r="1.55" fill="#d6d6d6" stroke="#505050" stroke-width="0.6"/>
<circle cx="300.2" cy="209.3" r="1.55" fill="#d6d6d6" stroke="#505050" stroke-width="0.6"/>
<circle cx="252.5" cy="220.7" r="1.55" fill="#d6d6d6" stroke="#505050" stroke-width="0.6"/>
<circle cx="253.8" cy="220.7" r="1.55" fill="#d6d6d6" stroke="#505050" stroke-width="0.6"/>
<circle cx="255.2" cy="220.7" r="1.55" fill="#d6d6d6" stroke="#505050" stroke-width="0.6"/>
<circle cx="264.9" cy="220.7" r="1.55" fill="#d6d6d6" stroke="#505050" stroke-width="0.6"/>
<circle cx="276.8" cy="219.9" r="1.55" fill="#d6d6d6" stroke="#505050" stroke-width="0.6"/>
<circle cx="278.3" cy="221" r="1.55" fill="#d6d6d6" stroke="#505050" stroke-width="0.6"/>
<circle cx="280.5" cy="220.7" r="1.55" fill="#d6d6d6" stroke="#505050" stroke-width="0.6"/>
<circle cx="292.6" cy="220.7" r="1.55" fill="#d6d6d6" stroke="#505050" stroke-width="0.6"/>
<circle cx="296.6" cy="220.7" r="1.55" fill="#d6d6d6" stroke="#505050" stroke-width="0.6"/>
<circle cx="301.2" cy="220.7" r="1.55" fill="#d6d6d6" stroke="#505050" stroke-width="0.6"/>
<circle cx="259.7" cy="232.2" r="1.55" fill="#d6d6d6" stroke="#505050" stroke-width="0.6"/>
<circle cx="263.2" cy="232.2" r="1.55" fill="#d6d6d6" stroke="#505050" stroke-width="0.6"/>
<circle cx="264.6" cy="232.2" r="1.55" fill="#d6d6d6" stroke="#505050" stroke-width="0.6"/>
<circle cx="292.5" cy="230.8" r="1.55" fill="#d6d6d6" stroke="#505050" stroke-width="0.6"/>
<circle cx="291.6" cy="233.1" r="1.55" fill="#d6d6d6" stroke="#505050" stroke-width="0.6"/>
<circle cx="294.6" cy="232.9" r="1.55" fill="#d6d6d6" stroke="#505050" stroke-width="0.6"/>
<circle cx="298.3" cy="232.2" r="1.55" fill="#d6d6d6" stroke="#505050" stroke-width="0.6"/>
<line x1="248.5" y1="167.2" x2="248.5" y2="240" stroke="#111" stroke-width="1.1"/>
<line x1="248" y1="239.5" x2="326.9" y2="239.5" stroke="#111" stroke-width="1.1"/>
<line x1="245.5" y1="174.2" x2="248.5" y2="174.2" stroke="#111" stroke-width="1"/>
<text x="217" y="175.86" font-size="4.6" text-anchor="start" fill="#333" stroke="#333" stroke-width="0.12" textLength="24.2" lengthAdjust="spacingAndGlyphs">SF3B1 K700</text>
<line x1="245.5" y1="185.8" x2="248.5" y2="185.8" stroke="#111" stroke-width="1"/>
<text x="216.4" y="187.46" font-size="4.6" text-anchor="start" fill="#333" stroke="#333" stroke-width="0.12" textLength="24.8" lengthAdjust="spacingAndGlyphs">SF3B1 other</text>
<line x1="245.5" y1="197.3" x2="248.5" y2="197.3" stroke="#111" stroke-width="1"/>
<text x="210.4" y="198.96" font-size="4.6" text-anchor="start" fill="#333" stroke="#333" stroke-width="0.12" textLength="30.8" lengthAdjust="spacingAndGlyphs">SRSF2 P95/P96</text>
<line x1="245.5" y1="209.3" x2="248.5" y2="209.3" stroke="#111" stroke-width="1"/>
<text x="219.3" y="210.96" font-size="4.6" text-anchor="start" fill="#333" stroke="#333" stroke-width="0.12" textLength="21.9" lengthAdjust="spacingAndGlyphs">U2AF1 S34</text>
<line x1="245.5" y1="220.7" x2="248.5" y2="220.7" stroke="#111" stroke-width="1"/>
<text x="215.2" y="222.36" font-size="4.6" text-anchor="start" fill="#333" stroke="#333" stroke-width="0.12" textLength="26" lengthAdjust="spacingAndGlyphs">U2AF1 Q157</text>
<line x1="245.5" y1="232.2" x2="248.5" y2="232.2" stroke="#111" stroke-width="1"/>
<text x="217.6" y="233.86" font-size="4.6" text-anchor="start" fill="#333" stroke="#333" stroke-width="0.12" textLength="23.6" lengthAdjust="spacingAndGlyphs">ZRSR2 trunc</text>
<line x1="251.6" y1="239.5" x2="251.6" y2="242.5" stroke="#111" stroke-width="1"/>
<text x="251.6" y="249.9" font-size="4.6" text-anchor="middle" fill="#4a4a4a">0.0</text>
<line x1="277.3" y1="239.5" x2="277.3" y2="242.5" stroke="#111" stroke-width="1"/>
<text x="277.3" y="249.9" font-size="4.6" text-anchor="middle" fill="#4a4a4a">0.5</text>
<line x1="303" y1="239.5" x2="303" y2="242.5" stroke="#111" stroke-width="1"/>
<text x="303" y="249.9" font-size="4.6" text-anchor="middle" fill="#4a4a4a">1.0</text>
<text x="265.1" y="260.01" font-size="6.7" text-anchor="start" fill="#333" stroke="#333" stroke-width="0.12" textLength="44.6" lengthAdjust="spacingAndGlyphs">Cancer cell fraction</text>
<circle cx="233.85" cy="275.1" r="1.85" fill="#dcdcdc" stroke="#555" stroke-width="0.6"/>
<text x="239.3" y="276.79" font-size="4.7" text-anchor="start" fill="#444" stroke="#444" stroke-width="0.12" textLength="46.5" lengthAdjust="spacingAndGlyphs">Double-mutant patient</text>
<rect x="232.2" y="282.9" width="3.6" height="3.5" fill="#f0d0e4" stroke="#8a6a80" stroke-width="0.5"/>
<text x="239.3" y="286.29" font-size="4.7" text-anchor="start" fill="#444" stroke="#444" stroke-width="0.12" textLength="45.7" lengthAdjust="spacingAndGlyphs">Single-mutant patients</text>
<text x="347.8" y="147.75" font-size="11.7" text-anchor="start" fill="#000" font-weight="bold" textLength="8.4" lengthAdjust="spacingAndGlyphs" stroke="#000" stroke-width="0.4">D</text>
<rect x="404.2" y="157.9" width="99" height="11.6" fill="#efefef"/>
<rect x="404.2" y="181" width="99" height="11.4" fill="#efefef"/>
<rect x="404.2" y="203.6" width="99" height="11.3" fill="#efefef"/>
<rect x="404.2" y="227.8" width="99" height="10.5" fill="#efefef"/>
<line x1="472.9" y1="163.1" x2="480.5" y2="163.1" stroke="#1d3b7c" stroke-width="0.9"/>
<circle cx="476.7" cy="163.1" r="1.35" fill="#1d3b7c" stroke="none" stroke-width="0.5"/>
<line x1="450.3" y1="164.2" x2="468.8" y2="164.2" stroke="#b8123c" stroke-width="1.1"/>
<circle cx="458.9" cy="164.2" r="1.45" fill="#b0103a" stroke="none" stroke-width="0.5"/>
<line x1="439.2" y1="175.1" x2="444" y2="175.1" stroke="#1d3b7c" stroke-width="0.9"/>
<circle cx="441.6" cy="175.1" r="1.35" fill="#1d3b7c" stroke="none" stroke-width="0.5"/>
<line x1="409.2" y1="176.2" x2="420.8" y2="176.2" stroke="#b8123c" stroke-width="1.1"/>
<circle cx="413.9" cy="176.2" r="1.45" fill="#b0103a" stroke="none" stroke-width="0.5"/>
<line x1="432.2" y1="186.4" x2="436.2" y2="186.4" stroke="#1d3b7c" stroke-width="0.9"/>
<circle cx="434.2" cy="186.4" r="1.35" fill="#1d3b7c" stroke="none" stroke-width="0.5"/>
<line x1="431.9" y1="187.5" x2="448" y2="187.5" stroke="#b8123c" stroke-width="1.1"/>
<circle cx="438.8" cy="187.5" r="1.45" fill="#b0103a" stroke="none" stroke-width="0.5"/>
<line x1="421.8" y1="198.1" x2="425.4" y2="198.1" stroke="#1d3b7c" stroke-width="0.9"/>
<circle cx="423.6" cy="198.1" r="1.35" fill="#1d3b7c" stroke="none" stroke-width="0.5"/>
<line x1="418.9" y1="199.2" x2="432.8" y2="199.2" stroke="#b8123c" stroke-width="1.1"/>
<circle cx="424.7" cy="199.2" r="1.45" fill="#b0103a" stroke="none" stroke-width="0.5"/>
<line x1="415" y1="209.2" x2="417.4" y2="209.2" stroke="#1d3b7c" stroke-width="0.9"/>
<circle cx="416.2" cy="209.2" r="1.35" fill="#1d3b7c" stroke="none" stroke-width="0.5"/>
<line x1="431.9" y1="210.3" x2="448" y2="210.3" stroke="#b8123c" stroke-width="1.1"/>
<circle cx="438.8" cy="210.3" r="1.45" fill="#b0103a" stroke="none" stroke-width="0.5"/>
<line x1="411" y1="220.6" x2="413" y2="220.6" stroke="#1d3b7c" stroke-width="0.9"/>
<circle cx="412" cy="220.6" r="1.35" fill="#1d3b7c" stroke="none" stroke-width="0.5"/>
<line x1="428.4" y1="221.7" x2="443.9" y2="221.7" stroke="#b8123c" stroke-width="1.1"/>
<circle cx="435.1" cy="221.7" r="1.45" fill="#b0103a" stroke="none" stroke-width="0.5"/>
<line x1="408.2" y1="232.2" x2="410.2" y2="232.2" stroke="#1d3b7c" stroke-width="0.9"/>
<circle cx="409.2" cy="232.2" r="1.35" fill="#1d3b7c" stroke="none" stroke-width="0.5"/>
<line x1="401" y1="233.3" x2="407" y2="233.3" stroke="#b8123c" stroke-width="1.1"/>
<circle cx="402.8" cy="233.3" r="1.45" fill="#b0103a" stroke="none" stroke-width="0.5"/>
<line x1="401.7" y1="157" x2="401.7" y2="239.4" stroke="#111" stroke-width="1.1"/>
<line x1="401.2" y1="238.9" x2="506.2" y2="238.9" stroke="#111" stroke-width="1.1"/>
<line x1="398.2" y1="163.3" x2="401.7" y2="163.3" stroke="#111" stroke-width="1"/>
<text x="364" y="164.96" font-size="4.6" text-anchor="start" fill="#333" stroke="#333" stroke-width="0.12" textLength="31" lengthAdjust="spacingAndGlyphs">SRSF2 P95/P96</text>
<line x1="398.2" y1="175.3" x2="401.7" y2="175.3" stroke="#111" stroke-width="1"/>
<text x="370.8" y="176.96" font-size="4.6" text-anchor="start" fill="#333" stroke="#333" stroke-width="0.12" textLength="24.2" lengthAdjust="spacingAndGlyphs">SF3B1 K700</text>
<line x1="398.2" y1="186.6" x2="401.7" y2="186.6" stroke="#111" stroke-width="1"/>
<text x="370" y="188.26" font-size="4.6" text-anchor="start" fill="#333" stroke="#333" stroke-width="0.12" textLength="25" lengthAdjust="spacingAndGlyphs">SF3B1 other</text>
<line x1="398.2" y1="198.3" x2="401.7" y2="198.3" stroke="#111" stroke-width="1"/>
<text x="372.6" y="199.96" font-size="4.6" text-anchor="start" fill="#333" stroke="#333" stroke-width="0.12" textLength="22.4" lengthAdjust="spacingAndGlyphs">U2AF1 S34</text>
<line x1="398.2" y1="209.4" x2="401.7" y2="209.4" stroke="#111" stroke-width="1"/>
<text x="368.8" y="211.06" font-size="4.6" text-anchor="start" fill="#333" stroke="#333" stroke-width="0.12" textLength="26.2" lengthAdjust="spacingAndGlyphs">U2AF1 Q157</text>
<line x1="398.2" y1="220.8" x2="401.7" y2="220.8" stroke="#111" stroke-width="1"/>
<text x="370.8" y="222.46" font-size="4.6" text-anchor="start" fill="#333" stroke="#333" stroke-width="0.12" textLength="24.2" lengthAdjust="spacingAndGlyphs">ZRSR2 trunc</text>
<line x1="398.2" y1="232.4" x2="401.7" y2="232.4" stroke="#111" stroke-width="1"/>
<text x="356.8" y="234.06" font-size="4.6" text-anchor="start" fill="#333" stroke="#333" stroke-width="0.12" textLength="38.2" lengthAdjust="spacingAndGlyphs">SRSF2 P95 inframe</text>
<line x1="402.4" y1="238.9" x2="402.4" y2="241.4" stroke="#111" stroke-width="1"/>
<text x="401.9" y="249.8" font-size="4.5" text-anchor="middle" fill="#4a4a4a">0%</text>
<line x1="452.7" y1="238.9" x2="452.7" y2="241.4" stroke="#111" stroke-width="1"/>
<text x="452.2" y="249.8" font-size="4.5" text-anchor="middle" fill="#4a4a4a">25%</text>
<line x1="503" y1="238.9" x2="503" y2="241.4" stroke="#111" stroke-width="1"/>
<text x="502.5" y="249.8" font-size="4.5" text-anchor="middle" fill="#4a4a4a">50%</text>
<text x="506.7" y="178.7" font-size="5.2" text-anchor="start" fill="#333" font-weight="bold">***</text>
<text x="506.7" y="211.3" font-size="5.2" text-anchor="start" fill="#333" font-weight="bold">**</text>
<text x="506.7" y="224.8" font-size="5.2" text-anchor="start" fill="#333" font-weight="bold">***</text>
<text x="428.5" y="260.01" font-size="6.7" text-anchor="start" fill="#333" stroke="#333" stroke-width="0.12" textLength="50.7" lengthAdjust="spacingAndGlyphs">Fraction of mutations</text>
<path d="M392.5 272.8 L393.9 275.5 L392.5 278.2 L391.1 275.5 Z" fill="#1d3b7c" stroke="none" stroke-width="1"/>
<text x="398.9" y="277.09" font-size="4.7" text-anchor="start" fill="#444" stroke="#444" stroke-width="0.12" textLength="28.3" lengthAdjust="spacingAndGlyphs">single mutant</text>
<path d="M392.5 281.7 L393.9 284.6 L392.5 287.5 L391.1 284.6 Z" fill="#b3173d" stroke="none" stroke-width="1"/>
<text x="398.9" y="286.49" font-size="4.7" text-anchor="start" fill="#444" stroke="#444" stroke-width="0.12" textLength="30.4" lengthAdjust="spacingAndGlyphs">double mutant</text>
<text x="7.5" y="315.8" font-size="11.92" text-anchor="start" fill="#000" font-weight="bold" textLength="7" lengthAdjust="spacingAndGlyphs" stroke="#000" stroke-width="0.4">E</text>
<rect x="67.1" y="351.6" width="8.9" height="8.8" fill="#d2d2d2"/>
<rect x="78.5" y="351" width="20" height="19.5" fill="#d2d2d2"/>
<rect x="100.1" y="351" width="19.7" height="19.5" fill="#d2d2d2"/>
<rect x="121.4" y="351" width="9.1" height="19.5" fill="#d2d2d2"/>
<rect x="89.3" y="372.1" width="9.2" height="9.1" fill="#d2d2d2"/>
<rect x="100.1" y="372.1" width="19.7" height="19.7" fill="#d2d2d2"/>
<rect x="121.4" y="372.1" width="9.1" height="19.7" fill="#d2d2d2"/>
<rect x="121.4" y="393.4" width="9.1" height="20" fill="#d2d2d2"/>
<rect x="88.2" y="350.6" width="11" height="10.1" fill="#2b4f91"/>
<rect x="110.1" y="393.2" width="10.1" height="10.3" fill="#ac002b"/>
<line x1="56.6" y1="349.7" x2="56.6" y2="425.4" stroke="#111" stroke-width="1.1"/>
<line x1="56.1" y1="350.2" x2="131.8" y2="350.2" stroke="#111" stroke-width="1.1"/>
<line x1="77.7" y1="349.7" x2="77.7" y2="425.4" stroke="#111" stroke-width="1.1"/>
<line x1="56.1" y1="371.3" x2="131.8" y2="371.3" stroke="#111" stroke-width="1.1"/>
<line x1="99.3" y1="349.7" x2="99.3" y2="425.4" stroke="#111" stroke-width="1.1"/>
<line x1="56.1" y1="392.6" x2="131.8" y2="392.6" stroke="#111" stroke-width="1.1"/>
<line x1="120.6" y1="349.7" x2="120.6" y2="425.4" stroke="#111" stroke-width="1.1"/>
<line x1="56.1" y1="414.2" x2="131.8" y2="414.2" stroke="#111" stroke-width="1.1"/>
<line x1="131.3" y1="349.7" x2="131.3" y2="425.4" stroke="#111" stroke-width="1.1"/>
<line x1="56.1" y1="424.9" x2="131.8" y2="424.9" stroke="#111" stroke-width="1.1"/>
<text x="61.9" y="357.5" font-size="4.5" text-anchor="middle" fill="#555">–</text>
<text x="72.45" y="357.7" font-size="4.8" text-anchor="middle" fill="#333" stroke="#333" stroke-width="0.12">3</text>
<text x="93.9" y="357.7" font-size="4.8" text-anchor="middle" fill="#b4bccc">3</text>
<text x="104.65" y="357.7" font-size="4.8" text-anchor="middle" fill="#333" stroke="#333" stroke-width="0.12">1</text>
<text x="72.45" y="368.05" font-size="4.5" text-anchor="middle" fill="#555">–</text>
<text x="93.9" y="368.25" font-size="4.8" text-anchor="middle" fill="#333" stroke="#333" stroke-width="0.12">14</text>
<text x="104.65" y="368.25" font-size="4.8" text-anchor="middle" fill="#333" stroke="#333" stroke-width="0.12">3</text>
<text x="125.95" y="368.25" font-size="4.8" text-anchor="middle" fill="#333" stroke="#333" stroke-width="0.12">1</text>
<text x="83.1" y="378.65" font-size="4.5" text-anchor="middle" fill="#555">–</text>
<text x="125.95" y="378.85" font-size="4.8" text-anchor="middle" fill="#333" stroke="#333" stroke-width="0.12">1</text>
<text x="93.9" y="389.3" font-size="4.5" text-anchor="middle" fill="#555">–</text>
<text x="104.65" y="389.5" font-size="4.8" text-anchor="middle" fill="#333" stroke="#333" stroke-width="0.12">4</text>
<text x="115.3" y="389.5" font-size="4.8" text-anchor="middle" fill="#333" stroke="#333" stroke-width="0.12">3</text>
<text x="125.95" y="389.5" font-size="4.8" text-anchor="middle" fill="#333" stroke="#333" stroke-width="0.12">6</text>
<text x="104.65" y="400" font-size="4.5" text-anchor="middle" fill="#555">–</text>
<text x="115.3" y="400.2" font-size="4.8" text-anchor="middle" fill="#3a000c">9</text>
<text x="125.95" y="400.2" font-size="4.8" text-anchor="middle" fill="#333" stroke="#333" stroke-width="0.12">3</text>
<text x="115.3" y="410.8" font-size="4.5" text-anchor="middle" fill="#555">–</text>
<text x="125.95" y="421.75" font-size="4.8" text-anchor="middle" fill="#333" stroke="#333" stroke-width="0.12">4</text>
<text x="29.3" y="357.08" font-size="4.5" text-anchor="start" fill="#333" stroke="#333" stroke-width="0.12" textLength="23.7" lengthAdjust="spacingAndGlyphs">SF3B1 K700</text>
<text x="28.6" y="367.63" font-size="4.5" text-anchor="start" fill="#333" stroke="#333" stroke-width="0.12" textLength="24.4" lengthAdjust="spacingAndGlyphs">SF3B1 other</text>
<text x="14.7" y="378.23" font-size="4.5" text-anchor="start" fill="#333" stroke="#333" stroke-width="0.12" textLength="38.3" lengthAdjust="spacingAndGlyphs">SRSF2 P95 inframe</text>
<text x="21.8" y="388.88" font-size="4.5" text-anchor="start" fill="#333" stroke="#333" stroke-width="0.12" textLength="31.2" lengthAdjust="spacingAndGlyphs">SRSF2 P95/P96</text>
<text x="26.3" y="399.58" font-size="4.5" text-anchor="start" fill="#333" stroke="#333" stroke-width="0.12" textLength="26.7" lengthAdjust="spacingAndGlyphs">U2AF1 Q157</text>
<text x="30.2" y="410.38" font-size="4.5" text-anchor="start" fill="#333" stroke="#333" stroke-width="0.12" textLength="22.8" lengthAdjust="spacingAndGlyphs">U2AF1 S34</text>
<text x="28.6" y="421.13" font-size="4.5" text-anchor="start" fill="#333" stroke="#333" stroke-width="0.12" textLength="24.4" lengthAdjust="spacingAndGlyphs">ZRSR2 trunc</text>
<text transform="translate(61.3,347.6) rotate(-45)" font-size="4.5" fill="#333" stroke="#333" stroke-width="0.12" textLength="26.6" lengthAdjust="spacingAndGlyphs">SF3B1 K700</text>
<text transform="translate(71.85,347.6) rotate(-45)" font-size="4.5" fill="#333" stroke="#333" stroke-width="0.12" textLength="26.2" lengthAdjust="spacingAndGlyphs">SF3B1 other</text>
<text transform="translate(82.5,347.6) rotate(-45)" font-size="4.5" fill="#333" stroke="#333" stroke-width="0.12" textLength="40" lengthAdjust="spacingAndGlyphs">SRSF2 P95 inframe</text>
<text transform="translate(93.3,347.6) rotate(-45)" font-size="4.5" fill="#333" stroke="#333" stroke-width="0.12" textLength="33" lengthAdjust="spacingAndGlyphs">SRSF2 P95/P96</text>
<text transform="translate(104.05,347.6) rotate(-45)" font-size="4.5" fill="#333" stroke="#333" stroke-width="0.12" textLength="27" lengthAdjust="spacingAndGlyphs">U2AF1 Q157</text>
<text transform="translate(114.7,347.6) rotate(-45)" font-size="4.5" fill="#333" stroke="#333" stroke-width="0.12" textLength="24" lengthAdjust="spacingAndGlyphs">U2AF1 S34</text>
<text transform="translate(125.35,347.6) rotate(-45)" font-size="4.5" fill="#333" stroke="#333" stroke-width="0.12" textLength="27.5" lengthAdjust="spacingAndGlyphs">ZRSR2 trunc</text>
<rect x="67.5" y="434.3" width="6.1" height="5.8" fill="#294c8c"/>
<rect x="67.5" y="444.1" width="6.1" height="6.1" fill="#ac002b"/>
<rect x="67.5" y="453.9" width="6.1" height="6.1" fill="#cfcfcf"/>
<text x="77" y="439.03" font-size="4.8" text-anchor="start" fill="#333" stroke="#333" stroke-width="0.12" textLength="42" lengthAdjust="spacingAndGlyphs">fewer than expected</text>
<text x="77" y="448.93" font-size="4.8" text-anchor="start" fill="#333" stroke="#333" stroke-width="0.12" textLength="41.7" lengthAdjust="spacingAndGlyphs">more than expected</text>
<text x="77" y="458.73" font-size="4.8" text-anchor="start" fill="#333" stroke="#333" stroke-width="0.12" textLength="54.8" lengthAdjust="spacingAndGlyphs">not significant (FDR &lt; 20%)</text>
<text x="160.2" y="315.4" font-size="11.48" text-anchor="start" fill="#000" font-weight="bold" textLength="7.5" lengthAdjust="spacingAndGlyphs" stroke="#000" stroke-width="0.4">F</text>
<polygon points="222.1,327.8 222.07,328.12 222.02,328.53 221.97,329.02 221.91,329.57 221.85,330.16 221.78,330.77 221.71,331.39 221.65,332 221.6,332.5 221.55,333.03 221.49,333.59 221.44,334.17 221.38,334.74 221.33,335.31 221.27,335.87 221.21,336.39 221.16,336.87 221.1,337.3 221,337.97 220.92,338.46 220.83,338.88 220.7,339.35 220.5,340 220.37,340.41 220.22,340.85 220.06,341.33 219.89,341.83 219.71,342.36 219.51,342.89 219.31,343.43 219.11,343.96 218.91,344.49 218.7,345 218.49,345.5 218.29,346 218.08,346.5 217.86,347 217.64,347.5 217.42,348 217.18,348.5 216.93,349 216.67,349.5 216.4,350 216.12,350.5 215.83,351 215.54,351.5 215.23,352 214.92,352.5 214.59,353 214.25,353.5 213.88,354 213.5,354.5 213.1,355 212.67,355.5 212.2,356 211.71,356.5 211.2,357 210.68,357.5 210.15,358 209.62,358.5 209.1,359 208.59,359.5 208.1,360 207.61,360.5 207.1,361 206.59,361.5 206.08,362 205.57,362.5 205.09,363 204.63,363.5 204.21,364 203.83,364.5 203.5,365 203.22,365.5 202.99,366 202.79,366.5 202.62,367 202.49,367.5 202.38,368 202.29,368.5 202.21,369 202.15,369.5 202.1,370 202.07,370.5 202.07,371 202.1,371.5 202.14,372 202.21,372.5 202.28,373 202.35,373.5 202.41,374 202.46,374.5 202.5,375 202.52,375.5 202.55,376 202.57,376.5 202.59,377 202.6,377.5 202.61,378 202.62,378.5 202.62,379 202.61,379.5 202.6,380 202.57,380.5 202.52,381 202.45,381.5 202.38,382 202.3,382.5 202.23,383 202.18,383.5 202.15,384 202.16,384.5 202.2,385 202.28,385.5 202.37,386 202.49,386.5 202.63,387 202.79,387.5 202.98,388 203.18,388.5 203.4,389 203.64,389.5 203.9,390 204.19,390.5 204.52,391 204.87,391.5 205.25,392 205.64,392.5 206.04,393 206.44,393.5 206.84,394 207.23,394.5 207.6,395 207.96,395.5 208.31,396.02 208.66,396.53 209,397.05 209.34,397.56 209.69,398.07 210.03,398.57 210.38,399.06 210.74,399.54 211.1,400 211.56,400.55 212.04,401.09 212.53,401.6 213.01,402.11 213.5,402.6 213.98,403.07 214.45,403.54 214.9,404 215.5,404.6 216.09,405.17 216.67,405.73 217.22,406.27 217.74,406.79 218.2,407.3 218.69,407.89 219.12,408.46 219.49,409 219.82,409.51 220.1,410 220.36,410.5 220.54,410.92 220.67,411.38 220.8,412 220.87,412.4 220.94,412.86 221.01,413.35 221.07,413.88 221.13,414.41 221.19,414.95 221.25,415.49 221.3,416 221.35,416.51 221.4,417.02 221.44,417.54 221.48,418.06 221.52,418.57 221.56,419.07 221.6,419.55 221.65,420 221.72,420.59 221.81,421.19 221.9,421.75 221.98,422.26 222.05,422.69 222.1,423 222.1,423 222.15,422.69 222.22,422.26 222.3,421.75 222.39,421.19 222.48,420.59 222.55,420 222.6,419.55 222.64,419.07 222.68,418.57 222.72,418.06 222.76,417.54 222.8,417.02 222.85,416.51 222.9,416 222.95,415.49 223.01,414.95 223.07,414.41 223.13,413.88 223.19,413.35 223.26,412.86 223.33,412.4 223.4,412 223.53,411.38 223.66,410.92 223.84,410.5 224.1,410 224.38,409.51 224.71,409 225.08,408.46 225.51,407.89 226,407.3 226.46,406.79 226.98,406.27 227.53,405.73 228.11,405.17 228.7,404.6 229.3,404 229.75,403.54 230.22,403.07 230.7,402.6 231.19,402.11 231.67,401.6 232.16,401.09 232.64,400.55 233.1,400 233.46,399.54 233.82,399.06 234.17,398.57 234.51,398.07 234.86,397.56 235.2,397.05 235.54,396.53 235.89,396.02 236.24,395.5 236.6,395 236.97,394.5 237.36,394 237.76,393.5 238.16,393 238.56,392.5 238.95,392 239.33,391.5 239.68,391 240.01,390.5 240.3,390 240.56,389.5 240.8,389 241.02,388.5 241.22,388 241.41,387.5 241.57,387 241.71,386.5 241.83,386 241.92,385.5 242,385 242.04,384.5 242.05,384 242.02,383.5 241.97,383 241.9,382.5 241.82,382 241.75,381.5 241.68,381 241.63,380.5 241.6,380 241.59,379.5 241.58,379 241.58,378.5 241.59,378 241.6,377.5 241.61,377 241.63,376.5 241.65,376 241.68,375.5 241.7,375 241.74,374.5 241.79,374 241.85,373.5 241.92,373 241.99,372.5 242.06,372 242.1,371.5 242.13,371 242.13,370.5 242.1,370 242.05,369.5 241.99,369 241.91,368.5 241.82,368 241.71,367.5 241.58,367 241.41,366.5 241.21,366 240.98,365.5 240.7,365 240.37,364.5 239.99,364 239.57,363.5 239.11,363 238.62,362.5 238.12,362 237.61,361.5 237.1,361 236.59,360.5 236.1,360 235.61,359.5 235.1,359 234.58,358.5 234.05,358 233.52,357.5 233,357 232.49,356.5 232,356 231.53,355.5 231.1,355 230.7,354.5 230.32,354 229.95,353.5 229.61,353 229.28,352.5 228.97,352 228.66,351.5 228.37,351 228.08,350.5 227.8,350 227.53,349.5 227.27,349 227.02,348.5 226.78,348 226.56,347.5 226.34,347 226.12,346.5 225.91,346 225.71,345.5 225.5,345 225.29,344.49 225.09,343.96 224.89,343.43 224.69,342.89 224.49,342.36 224.31,341.83 224.14,341.33 223.98,340.85 223.83,340.41 223.7,340 223.5,339.35 223.37,338.88 223.28,338.46 223.2,337.97 223.1,337.3 223.04,336.87 222.99,336.39 222.93,335.87 222.87,335.31 222.82,334.74 222.76,334.17 222.71,333.59 222.65,333.03 222.6,332.5 222.55,332 222.49,331.39 222.42,330.77 222.35,330.16 222.29,329.57 222.23,329.02 222.18,328.53 222.13,328.12 222.1,327.8" fill="#efcfe3"/>
<line x1="222.1" y1="351" x2="222.1" y2="399.4" stroke="#d04a70" stroke-width="1.3"/>
<rect x="216.5" y="367.5" width="11.5" height="21.7" fill="#d49682"/>
<line x1="216.5" y1="376.7" x2="228" y2="376.7" stroke="#c8304f" stroke-width="1.2"/>
<circle cx="222.1" cy="351.3" r="1.45" fill="#8a0c20" stroke="#1a0005" stroke-width="0.6"/>
<circle cx="222.1" cy="362" r="1.45" fill="#8a0c20" stroke="#1a0005" stroke-width="0.6"/>
<circle cx="220.8" cy="367.4" r="1.45" fill="#8a0c20" stroke="#1a0005" stroke-width="0.6"/>
<circle cx="223.4" cy="367.4" r="1.45" fill="#8a0c20" stroke="#1a0005" stroke-width="0.6"/>
<circle cx="222.1" cy="369.8" r="1.45" fill="#8a0c20" stroke="#1a0005" stroke-width="0.6"/>
<circle cx="222.1" cy="373.5" r="1.45" fill="#8a0c20" stroke="#1a0005" stroke-width="0.6"/>
<circle cx="222.1" cy="380.1" r="1.45" fill="#8a0c20" stroke="#1a0005" stroke-width="0.6"/>
<circle cx="222.1" cy="385.3" r="1.45" fill="#8a0c20" stroke="#1a0005" stroke-width="0.6"/>
<circle cx="221.1" cy="389.5" r="1.45" fill="#8a0c20" stroke="#1a0005" stroke-width="0.6"/>
<circle cx="223.3" cy="389.5" r="1.45" fill="#8a0c20" stroke="#1a0005" stroke-width="0.6"/>
<circle cx="222.2" cy="391.2" r="1.45" fill="#8a0c20" stroke="#1a0005" stroke-width="0.6"/>
<circle cx="222.1" cy="399.4" r="1.45" fill="#8a0c20" stroke="#1a0005" stroke-width="0.6"/>
<line x1="197.85" y1="323.4" x2="197.85" y2="427.7" stroke="#111" stroke-width="1.5"/>
<line x1="197.15" y1="427.2" x2="249.5" y2="427.2" stroke="#111" stroke-width="1.5"/>
<line x1="194.3" y1="332.2" x2="197.85" y2="332.2" stroke="#111" stroke-width="1"/>
<text x="191.2" y="333.75" font-size="4.5" text-anchor="end" fill="#4a4a4a">20000</text>
<line x1="194.3" y1="341.2" x2="197.85" y2="341.2" stroke="#111" stroke-width="1"/>
<text x="191.2" y="342.75" font-size="4.5" text-anchor="end" fill="#4a4a4a">17500</text>
<line x1="194.3" y1="350.2" x2="197.85" y2="350.2" stroke="#111" stroke-width="1"/>
<text x="191.2" y="351.75" font-size="4.5" text-anchor="end" fill="#4a4a4a">15000</text>
<line x1="194.3" y1="359.2" x2="197.85" y2="359.2" stroke="#111" stroke-width="1"/>
<text x="191.2" y="360.75" font-size="4.5" text-anchor="end" fill="#4a4a4a">12500</text>
<line x1="194.3" y1="368.2" x2="197.85" y2="368.2" stroke="#111" stroke-width="1"/>
<text x="191.2" y="369.75" font-size="4.5" text-anchor="end" fill="#4a4a4a">10000</text>
<line x1="194.3" y1="377.2" x2="197.85" y2="377.2" stroke="#111" stroke-width="1"/>
<text x="191.2" y="378.75" font-size="4.5" text-anchor="end" fill="#4a4a4a">7500</text>
<line x1="194.3" y1="386.2" x2="197.85" y2="386.2" stroke="#111" stroke-width="1"/>
<text x="191.2" y="387.75" font-size="4.5" text-anchor="end" fill="#4a4a4a">5000</text>
<line x1="194.3" y1="395.2" x2="197.85" y2="395.2" stroke="#111" stroke-width="1"/>
<text x="191.2" y="396.75" font-size="4.5" text-anchor="end" fill="#4a4a4a">2500</text>
<line x1="194.3" y1="404.2" x2="197.85" y2="404.2" stroke="#111" stroke-width="1"/>
<text x="191.2" y="405.75" font-size="4.5" text-anchor="end" fill="#4a4a4a">0</text>
<text transform="translate(173.9,375.3) rotate(-90)" font-size="6.3" text-anchor="middle" fill="#333" stroke="#333" stroke-width="0.12" textLength="65" lengthAdjust="spacingAndGlyphs">Number of sequenced cells</text>
<text x="265.9" y="315.7" font-size="12.06" text-anchor="start" fill="#000" font-weight="bold" textLength="9.4" lengthAdjust="spacingAndGlyphs" stroke="#000" stroke-width="0.4">G</text>
<polygon points="323.5,328 323.46,328.31 323.41,328.72 323.36,329.21 323.29,329.76 323.22,330.33 323.15,330.91 323.08,331.48 323,332 322.92,332.56 322.83,333.1 322.75,333.64 322.65,334.18 322.55,334.74 322.43,335.31 322.3,335.9 322.18,336.38 322.05,336.88 321.9,337.38 321.75,337.9 321.59,338.42 321.43,338.94 321.28,339.46 321.13,339.99 321,340.5 320.86,341.01 320.72,341.52 320.57,342.03 320.43,342.54 320.29,343.05 320.17,343.56 320.08,344.07 320.02,344.58 320,345.1 320.02,345.62 320.08,346.14 320.18,346.66 320.3,347.19 320.43,347.71 320.58,348.24 320.73,348.76 320.87,349.28 321,349.8 321.13,350.32 321.27,350.83 321.42,351.34 321.57,351.85 321.72,352.36 321.86,352.87 321.99,353.38 322.11,353.89 322.2,354.4 322.28,354.91 322.36,355.42 322.43,355.93 322.49,356.44 322.54,356.95 322.57,357.46 322.57,357.97 322.55,358.48 322.5,359 322.42,359.52 322.3,360.04 322.16,360.56 322,361.09 321.82,361.61 321.63,362.14 321.42,362.66 321.21,363.18 321,363.7 320.78,364.21 320.55,364.72 320.3,365.21 320.04,365.71 319.78,366.21 319.51,366.72 319.24,367.23 318.97,367.76 318.7,368.3 318.46,368.8 318.24,369.31 318.01,369.83 317.78,370.36 317.55,370.89 317.31,371.43 317.06,371.97 316.79,372.52 316.51,373.06 316.2,373.6 315.9,374.09 315.58,374.59 315.25,375.08 314.91,375.58 314.55,376.08 314.19,376.58 313.81,377.08 313.44,377.59 313.06,378.09 312.68,378.6 312.3,379.1 311.92,379.61 311.52,380.11 311.12,380.62 310.72,381.13 310.31,381.64 309.89,382.16 309.48,382.67 309.08,383.18 308.68,383.69 308.28,384.19 307.9,384.7 307.52,385.21 307.13,385.72 306.74,386.23 306.34,386.75 305.96,387.26 305.58,387.77 305.22,388.28 304.88,388.77 304.56,389.26 304.26,389.74 304,390.2 303.71,390.74 303.44,391.27 303.19,391.78 302.97,392.27 302.79,392.76 302.64,393.24 302.55,393.73 302.5,394.21 302.5,394.7 302.57,395.25 302.69,395.8 302.87,396.35 303.11,396.9 303.41,397.45 303.75,398 304.15,398.55 304.6,399.1 305.06,399.6 305.59,400.1 306.18,400.6 306.81,401.1 307.46,401.6 308.13,402.1 308.81,402.6 309.47,403.1 310.1,403.6 310.8,404.15 311.51,404.71 312.22,405.26 312.93,405.81 313.64,406.35 314.34,406.9 315.03,407.45 315.7,408 316.38,408.56 317.07,409.12 317.77,409.69 318.45,410.26 319.1,410.82 319.7,411.37 320.24,411.9 320.7,412.4 321.17,413 321.52,413.53 321.77,414.03 321.96,414.55 322.12,415.12 322.3,415.8 322.4,416.23 322.48,416.71 322.56,417.22 322.63,417.76 322.69,418.32 322.75,418.87 322.8,419.42 322.85,419.95 322.9,420.44 322.95,420.9 323,421.3 323.12,422.06 323.24,422.71 323.35,423.25 323.44,423.68 323.5,424 323.5,424 323.56,423.68 323.65,423.25 323.76,422.71 323.88,422.06 324,421.3 324.05,420.9 324.1,420.44 324.15,419.95 324.2,419.42 324.25,418.87 324.31,418.32 324.37,417.76 324.44,417.22 324.52,416.71 324.6,416.23 324.7,415.8 324.88,415.12 325.04,414.55 325.23,414.03 325.48,413.53 325.83,413 326.3,412.4 326.76,411.9 327.3,411.37 327.9,410.82 328.55,410.26 329.23,409.69 329.93,409.12 330.62,408.56 331.3,408 331.97,407.45 332.66,406.9 333.36,406.35 334.07,405.81 334.78,405.26 335.49,404.71 336.2,404.15 336.9,403.6 337.53,403.1 338.19,402.6 338.87,402.1 339.54,401.6 340.19,401.1 340.82,400.6 341.41,400.1 341.94,399.6 342.4,399.1 342.85,398.55 343.25,398 343.59,397.45 343.89,396.9 344.13,396.35 344.31,395.8 344.43,395.25 344.5,394.7 344.5,394.21 344.45,393.73 344.36,393.24 344.21,392.76 344.03,392.27 343.81,391.78 343.56,391.27 343.29,390.74 343,390.2 342.74,389.74 342.44,389.26 342.12,388.77 341.78,388.28 341.42,387.77 341.04,387.26 340.66,386.75 340.26,386.23 339.87,385.72 339.48,385.21 339.1,384.7 338.72,384.19 338.32,383.69 337.92,383.18 337.52,382.67 337.11,382.16 336.69,381.64 336.28,381.13 335.88,380.62 335.48,380.11 335.08,379.61 334.7,379.1 334.32,378.6 333.94,378.09 333.56,377.59 333.19,377.08 332.81,376.58 332.45,376.08 332.09,375.58 331.75,375.08 331.42,374.59 331.1,374.09 330.8,373.6 330.49,373.06 330.21,372.52 329.94,371.97 329.69,371.43 329.45,370.89 329.22,370.36 328.99,369.83 328.76,369.31 328.54,368.8 328.3,368.3 328.03,367.76 327.76,367.23 327.49,366.72 327.22,366.21 326.96,365.71 326.7,365.21 326.45,364.72 326.22,364.21 326,363.7 325.79,363.18 325.58,362.66 325.37,362.14 325.18,361.61 325,361.09 324.84,360.56 324.7,360.04 324.58,359.52 324.5,359 324.45,358.48 324.43,357.97 324.43,357.46 324.46,356.95 324.51,356.44 324.57,355.93 324.64,355.42 324.72,354.91 324.8,354.4 324.89,353.89 325.01,353.38 325.14,352.87 325.28,352.36 325.43,351.85 325.58,351.34 325.73,350.83 325.87,350.32 326,349.8 326.13,349.28 326.27,348.76 326.42,348.24 326.57,347.71 326.7,347.19 326.82,346.66 326.92,346.14 326.98,345.62 327,345.1 326.98,344.58 326.92,344.07 326.83,343.56 326.71,343.05 326.57,342.54 326.43,342.03 326.28,341.52 326.14,341.01 326,340.5 325.87,339.99 325.72,339.46 325.57,338.94 325.41,338.42 325.25,337.9 325.1,337.38 324.95,336.88 324.82,336.38 324.7,335.9 324.57,335.31 324.45,334.74 324.35,334.18 324.25,333.64 324.17,333.1 324.08,332.56 324,332 323.92,331.48 323.85,330.91 323.78,330.33 323.71,329.76 323.64,329.21 323.59,328.72 323.54,328.31 323.5,328" fill="#efcfe3"/>
<line x1="323.5" y1="372.7" x2="323.5" y2="404.1" stroke="#c81a40" stroke-width="1"/>
<rect x="318" y="382.4" width="11.5" height="14.5" fill="#d49682"/>
<line x1="318" y1="392.1" x2="329.3" y2="392.1" stroke="#c4163a" stroke-width="1.2"/>
<circle cx="323.5" cy="346.6" r="1.45" fill="#c0001e" stroke="#1a0005" stroke-width="0.6"/>
<circle cx="323.4" cy="372.8" r="1.45" fill="#c0001e" stroke="#1a0005" stroke-width="0.6"/>
<circle cx="323.4" cy="378" r="1.45" fill="#c0001e" stroke="#1a0005" stroke-width="0.6"/>
<circle cx="323.4" cy="383.8" r="1.45" fill="#c0001e" stroke="#1a0005" stroke-width="0.6"/>
<circle cx="323.4" cy="388.1" r="1.45" fill="#c0001e" stroke="#1a0005" stroke-width="0.6"/>
<circle cx="321.7" cy="392.1" r="1.45" fill="#c0001e" stroke="#1a0005" stroke-width="0.6"/>
<circle cx="325.1" cy="392.1" r="1.45" fill="#c0001e" stroke="#1a0005" stroke-width="0.6"/>
<circle cx="323.4" cy="395.8" r="1.45" fill="#c0001e" stroke="#1a0005" stroke-width="0.6"/>
<circle cx="322" cy="398" r="1.45" fill="#c0001e" stroke="#1a0005" stroke-width="0.6"/>
<circle cx="325" cy="398" r="1.45" fill="#c0001e" stroke="#1a0005" stroke-width="0.6"/>
<circle cx="323.4" cy="400.2" r="1.45" fill="#c0001e" stroke="#1a0005" stroke-width="0.6"/>
<circle cx="323.4" cy="403.9" r="1.45" fill="#c0001e" stroke="#1a0005" stroke-width="0.6"/>
<line x1="298.9" y1="323.4" x2="298.9" y2="427.7" stroke="#111" stroke-width="1.6"/>
<line x1="298.2" y1="427.2" x2="350.7" y2="427.2" stroke="#111" stroke-width="1.5"/>
<line x1="294.6" y1="334.2" x2="297.2" y2="334.2" stroke="#111" stroke-width="1"/>
<text x="292.9" y="335.75" font-size="4.5" text-anchor="end" fill="#4a4a4a">800</text>
<line x1="294.6" y1="353.25" x2="297.2" y2="353.25" stroke="#111" stroke-width="1"/>
<text x="292.9" y="354.8" font-size="4.5" text-anchor="end" fill="#4a4a4a">600</text>
<line x1="294.6" y1="372.3" x2="297.2" y2="372.3" stroke="#111" stroke-width="1"/>
<text x="292.9" y="373.85" font-size="4.5" text-anchor="end" fill="#4a4a4a">400</text>
<line x1="294.6" y1="391.35" x2="297.2" y2="391.35" stroke="#111" stroke-width="1"/>
<text x="292.9" y="392.9" font-size="4.5" text-anchor="end" fill="#4a4a4a">200</text>
<line x1="294.6" y1="410.4" x2="297.2" y2="410.4" stroke="#111" stroke-width="1"/>
<text x="292.9" y="411.95" font-size="4.5" text-anchor="end" fill="#4a4a4a">0</text>
<text transform="translate(279.6,375.3) rotate(-90)" font-size="6.3" text-anchor="middle" fill="#333" stroke="#333" stroke-width="0.12" textLength="65" lengthAdjust="spacingAndGlyphs">Reads per amplicon per cell</text>
<text x="367" y="315.9" font-size="11.34" text-anchor="start" fill="#000" font-weight="bold" textLength="9.1" lengthAdjust="spacingAndGlyphs" stroke="#000" stroke-width="0.4">H</text>
<rect x="382" y="327.8" width="33.1" height="9.8" fill="#8e8e8e"/>
<rect x="415.1" y="327.8" width="79.9" height="9.8" fill="#a8002c"/>
<rect x="495" y="327.8" width="2.9" height="9.8" fill="#dadada"/>
<line x1="382.9" y1="339.9" x2="395.2" y2="339.9" stroke="#555" stroke-width="1.4"/>
<text x="389.05" y="344.8" font-size="4.5" text-anchor="middle" fill="#222" stroke="#222" stroke-width="0.12" textLength="17.2" lengthAdjust="spacingAndGlyphs">100 cells</text>
<line x1="379.2" y1="347.15" x2="500.8" y2="347.15" stroke="#111" stroke-width="1.4"/>
<line x1="382" y1="347.15" x2="382" y2="349.45" stroke="#111" stroke-width="1"/>
<text x="382" y="355.5" font-size="4.6" text-anchor="middle" fill="#333" stroke="#333" stroke-width="0.12">0.0</text>
<line x1="439.9" y1="347.15" x2="439.9" y2="349.45" stroke="#111" stroke-width="1"/>
<text x="439.9" y="355.5" font-size="4.6" text-anchor="middle" fill="#333" stroke="#333" stroke-width="0.12">0.5</text>
<line x1="497.9" y1="347.15" x2="497.9" y2="349.45" stroke="#111" stroke-width="1"/>
<text x="497.9" y="355.5" font-size="4.6" text-anchor="middle" fill="#333" stroke="#333" stroke-width="0.12">1.0</text>
<text x="398.3" y="319.9" font-size="4.6" text-anchor="middle" fill="#9a9a9a">U2AF1 Q157R</text>
<text x="398.3" y="325.3" font-size="4.6" text-anchor="middle" fill="#9a9a9a">(n=271)</text>
<text x="454.6" y="319.9" font-size="4.6" text-anchor="middle" fill="#b0103a">U2AF1 Q157R &amp;</text>
<text x="454.6" y="325.3" font-size="4.6" text-anchor="middle" fill="#b0103a">SRSF2 P95H (n=654)</text>
<rect x="380.9" y="369.1" width="41.6" height="10.1" fill="#8e8e8e"/>
<rect x="422.5" y="369.1" width="73.8" height="10.1" fill="#a8002c"/>
<line x1="381.3" y1="381.8" x2="404" y2="381.8" stroke="#555" stroke-width="1.4"/>
<text x="392.65" y="386.8" font-size="4.5" text-anchor="middle" fill="#222" stroke="#222" stroke-width="0.12" textLength="17.2" lengthAdjust="spacingAndGlyphs">100 cells</text>
<line x1="380" y1="389.1" x2="498.5" y2="389.1" stroke="#111" stroke-width="1.4"/>
<line x1="380.9" y1="389.1" x2="380.9" y2="391.4" stroke="#111" stroke-width="1"/>
<text x="380.9" y="397.8" font-size="4.6" text-anchor="middle" fill="#333" stroke="#333" stroke-width="0.12">0.0</text>
<line x1="439.4" y1="389.1" x2="439.4" y2="391.4" stroke="#111" stroke-width="1"/>
<text x="439.4" y="397.8" font-size="4.6" text-anchor="middle" fill="#333" stroke="#333" stroke-width="0.12">0.5</text>
<line x1="495.4" y1="389.1" x2="495.4" y2="391.4" stroke="#111" stroke-width="1"/>
<text x="495.4" y="397.8" font-size="4.6" text-anchor="middle" fill="#333" stroke="#333" stroke-width="0.12">1.0</text>
<text x="405.5" y="360.9" font-size="4.6" text-anchor="middle" fill="#9a9a9a">SF3B1 H662Q</text>
<text x="405.5" y="366.2" font-size="4.6" text-anchor="middle" fill="#9a9a9a">(n=180)</text>
<text x="464" y="360.9" font-size="4.6" text-anchor="middle" fill="#b0103a">SF3B1 H662Q</text>
<text x="464" y="366.2" font-size="4.6" text-anchor="middle" fill="#b0103a">&amp; SRSF2 P95H (n=321)</text>
<rect x="380" y="411.5" width="63.7" height="9.3" fill="#8e8e8e"/>
<rect x="443.7" y="411.5" width="51.1" height="9.3" fill="#a8002c"/>
<line x1="379.8" y1="423.75" x2="412.5" y2="423.75" stroke="#555" stroke-width="1.4"/>
<text x="396.15" y="428.8" font-size="4.5" text-anchor="middle" fill="#222" stroke="#222" stroke-width="0.12" textLength="17.2" lengthAdjust="spacingAndGlyphs">100 cells</text>
<line x1="379" y1="431.1" x2="497.5" y2="431.1" stroke="#111" stroke-width="1.4"/>
<line x1="380" y1="431.1" x2="380" y2="433.4" stroke="#111" stroke-width="1"/>
<text x="380" y="439.3" font-size="4.6" text-anchor="middle" fill="#333" stroke="#333" stroke-width="0.12">0.0</text>
<line x1="439.4" y1="431.1" x2="439.4" y2="433.4" stroke="#111" stroke-width="1"/>
<text x="439.4" y="439.3" font-size="4.6" text-anchor="middle" fill="#333" stroke="#333" stroke-width="0.12">0.5</text>
<line x1="494.5" y1="431.1" x2="494.5" y2="433.4" stroke="#111" stroke-width="1"/>
<text x="494.5" y="439.3" font-size="4.6" text-anchor="middle" fill="#333" stroke="#333" stroke-width="0.12">1.0</text>
<text x="412.3" y="402.5" font-size="4.6" text-anchor="middle" fill="#9a9a9a">SF3B1 K666T</text>
<text x="412.3" y="408" font-size="4.6" text-anchor="middle" fill="#9a9a9a">(n=196)</text>
<text x="469.2" y="402.5" font-size="4.6" text-anchor="middle" fill="#b0103a">SF3B1 K666T</text>
<text x="469.2" y="408" font-size="4.6" text-anchor="middle" fill="#b0103a">&amp; SRSF2 P95H (n=155)</text>
<rect x="379.1" y="454" width="87.7" height="8.9" fill="#8e8e8e"/>
<rect x="466.8" y="454" width="27" height="8.9" fill="#a8002c"/>
<line x1="380" y1="465.4" x2="399" y2="465.4" stroke="#555" stroke-width="1.4"/>
<text x="389.5" y="470.5" font-size="4.5" text-anchor="middle" fill="#222" stroke="#222" stroke-width="0.12" textLength="17.2" lengthAdjust="spacingAndGlyphs">100 cells</text>
<line x1="378" y1="472.6" x2="499" y2="472.6" stroke="#111" stroke-width="1.4"/>
<line x1="379.1" y1="472.6" x2="379.1" y2="474.9" stroke="#111" stroke-width="1"/>
<text x="379.1" y="480.8" font-size="4.6" text-anchor="middle" fill="#333" stroke="#333" stroke-width="0.12">0.0</text>
<line x1="436.9" y1="472.6" x2="436.9" y2="474.9" stroke="#111" stroke-width="1"/>
<text x="436.9" y="480.8" font-size="4.6" text-anchor="middle" fill="#333" stroke="#333" stroke-width="0.12">0.5</text>
<line x1="494.5" y1="472.6" x2="494.5" y2="474.9" stroke="#111" stroke-width="1"/>
<text x="494.5" y="480.8" font-size="4.6" text-anchor="middle" fill="#333" stroke="#333" stroke-width="0.12">1.0</text>
<text x="420.6" y="445.5" font-size="4.6" text-anchor="middle" fill="#9a9a9a">U2AF1 S34C</text>
<text x="420.6" y="450.8" font-size="4.6" text-anchor="middle" fill="#9a9a9a">(n=451)</text>
<text x="480" y="445.5" font-size="4.6" text-anchor="middle" fill="#b0103a">U2AF1 S34C &amp;</text>
<text x="480" y="450.8" font-size="4.6" text-anchor="middle" fill="#b0103a">SRSF2 P95L (n=141)</text>
<rect x="380" y="495" width="47.1" height="9.8" fill="#8e8e8e"/>
<rect x="427.1" y="495" width="66.7" height="9.8" fill="#dadada"/>
<rect x="493.8" y="495" width="1.9" height="9.8" fill="#a8002c"/>
<line x1="380.3" y1="506.6" x2="388.6" y2="506.6" stroke="#555" stroke-width="1.4"/>
<text x="384.6" y="511.8" font-size="4.5" text-anchor="middle" fill="#222" stroke="#222" stroke-width="0.12" textLength="14.8" lengthAdjust="spacingAndGlyphs">10 cells</text>
<line x1="376.9" y1="513.7" x2="497.8" y2="513.7" stroke="#111" stroke-width="1.4"/>
<line x1="380" y1="513.7" x2="380" y2="516" stroke="#111" stroke-width="1"/>
<text x="380" y="522.5" font-size="4.6" text-anchor="middle" fill="#333" stroke="#333" stroke-width="0.12">0.0</text>
<line x1="437.3" y1="513.7" x2="437.3" y2="516" stroke="#111" stroke-width="1"/>
<text x="437.3" y="522.5" font-size="4.6" text-anchor="middle" fill="#333" stroke="#333" stroke-width="0.12">0.5</text>
<line x1="494.6" y1="513.7" x2="494.6" y2="516" stroke="#111" stroke-width="1"/>
<text x="494.6" y="522.5" font-size="4.6" text-anchor="middle" fill="#333" stroke="#333" stroke-width="0.12">1.0</text>
<text x="404" y="487.1" font-size="4.6" text-anchor="middle" fill="#9a9a9a">SRSF2 P95H</text>
<text x="404" y="492.3" font-size="4.6" text-anchor="middle" fill="#9a9a9a">(n=58)</text>
<text x="460.9" y="487.1" font-size="4.6" text-anchor="middle" fill="#d0d0d0">SF3B1 K700E</text>
<text x="460.9" y="492.3" font-size="4.6" text-anchor="middle" fill="#d0d0d0">(n=83)</text>
<text x="393.2" y="530.81" font-size="6.7" text-anchor="start" fill="#333" stroke="#333" stroke-width="0.12" textLength="89.9" lengthAdjust="spacingAndGlyphs">Fraction of splicing factor mutant cells</text>
</svg><div id="frame"></div></div></body></html>
